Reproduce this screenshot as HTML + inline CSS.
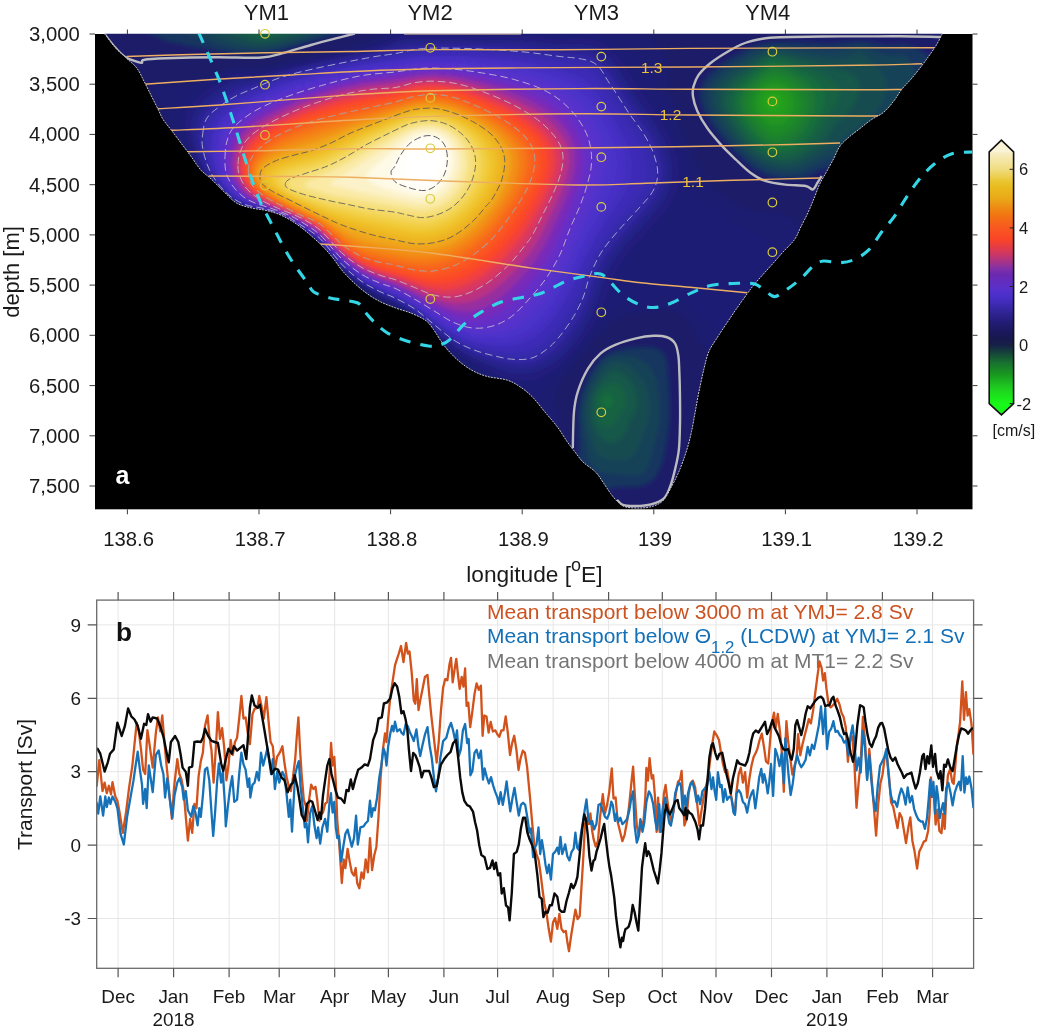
<!DOCTYPE html>
<html lang="en"><head><meta charset="utf-8"><title>Figure</title>
<style>html,body{margin:0;padding:0;background:#fff}svg{display:block}text{font-family:"Liberation Sans", sans-serif}</style>
</head><body>
<svg width="1038" height="1030" viewBox="0 0 1038 1030">
<rect width="1038" height="1030" fill="#fff"/>
<defs>
<clipPath id="basin"><path d="M104.6,33.8C106.4,36.1 111.8,43.8 115.3,47.7C118.8,51.6 121.8,53.9 125.4,57.3C129.0,60.7 133.5,63.8 136.7,67.9C139.8,72.0 142.0,77.4 144.3,81.8C146.6,86.2 148.3,89.8 150.6,94.4C152.9,99.0 156.1,105.3 158.2,109.5C160.3,113.7 160.9,116.0 163.2,119.6C165.5,123.2 168.6,126.6 172.0,131.0C175.4,135.4 180.2,142.0 183.4,146.2C186.6,150.4 188.1,152.3 191.0,156.3C193.9,160.3 197.6,166.4 201.0,170.2C204.4,174.0 207.4,175.4 211.2,179.0C215.0,182.6 219.6,187.6 223.8,191.6C228.0,195.6 231.9,200.3 236.5,203.0C241.1,205.7 246.5,206.7 251.6,208.0C256.6,209.3 261.7,209.3 266.8,210.6C271.9,211.9 277.0,213.3 282.0,215.6C287.0,217.9 292.4,221.2 297.0,224.4C301.6,227.6 305.5,230.9 309.7,234.5C313.9,238.1 318.5,242.2 322.3,246.0C326.1,249.8 329.0,253.1 332.4,257.3C335.8,261.5 338.8,266.6 342.6,271.0C346.4,275.4 351.1,280.1 355.3,284.0C359.5,287.9 363.7,291.2 367.9,294.2C372.1,297.2 375.9,299.5 380.5,301.8C385.1,304.1 390.6,306.1 395.7,308.0C400.8,309.9 405.8,310.9 410.8,313.0C415.9,315.1 422.2,317.9 426.0,320.7C429.8,323.4 431.0,326.1 433.5,329.5C436.0,332.9 438.5,337.4 441.0,341.0C443.5,344.6 445.7,347.7 448.7,351.0C451.7,354.3 455.0,357.8 458.8,361.0C462.6,364.2 466.8,367.4 471.4,370.0C476.0,372.6 480.7,374.6 486.6,376.3C492.5,378.0 501.3,378.3 506.8,380.0C512.3,381.7 515.2,383.6 519.4,386.4C523.6,389.1 527.8,392.3 532.0,396.5C536.2,400.7 540.4,406.6 544.6,411.6C548.8,416.7 553.5,421.7 557.3,426.8C561.1,431.9 564.4,437.8 567.4,442.0C570.4,446.2 572.4,448.7 575.0,452.0C577.6,455.3 579.6,458.7 583.0,462.0C586.4,465.3 592.2,468.6 595.5,472.0C598.8,475.4 600.5,478.6 603.0,482.2C605.5,485.8 608.2,490.2 610.7,493.6C613.2,497.0 615.8,500.2 618.3,502.4C620.8,504.6 622.1,506.1 625.9,507.0C629.7,507.9 636.4,508.2 641.0,508.0C645.6,507.8 649.8,507.3 653.6,506.0C657.4,504.7 660.8,503.2 663.7,500.0C666.7,496.8 669.0,491.2 671.3,487.0C673.6,482.8 675.7,478.8 677.6,474.6C679.5,470.4 681.0,466.6 682.7,462.0C684.4,457.4 686.2,451.9 687.7,446.9C689.2,441.8 690.2,437.6 691.5,431.7C692.8,425.8 694.0,418.2 695.3,411.5C696.5,404.8 697.5,398.4 699.0,391.3C700.5,384.2 702.4,375.2 704.0,368.6C705.6,362.1 706.6,357.1 708.7,352.0C710.8,346.9 713.8,343.1 716.8,338.3C719.8,333.5 723.5,328.1 726.9,323.0C730.3,317.9 733.6,312.8 737.0,308.0C740.4,303.2 744.1,298.0 747.0,294.0C749.9,290.0 751.6,287.6 754.6,284.0C757.6,280.4 761.1,276.6 764.7,272.6C768.3,268.6 773.0,263.4 776.0,260.0C779.0,256.6 779.9,255.4 783.0,252.0C786.1,248.6 791.5,243.8 794.5,239.6C797.5,235.4 798.5,231.6 800.8,227.0C803.1,222.4 806.1,216.9 808.4,211.8C810.7,206.8 812.8,201.3 814.7,196.7C816.6,192.1 817.8,188.0 819.7,184.0C821.6,180.0 823.7,176.9 826.0,172.7C828.3,168.5 831.3,163.2 833.6,158.8C835.9,154.4 837.5,149.6 840.0,146.0C842.5,142.4 845.5,140.2 848.8,137.3C852.1,134.4 856.2,131.4 860.0,128.5C863.8,125.5 867.5,122.3 871.5,119.6C875.5,116.8 880.2,115.2 884.0,112.0C887.8,108.8 891.0,104.5 894.0,100.7C897.0,96.9 898.8,93.1 901.8,89.3C904.8,85.5 908.6,82.0 912.0,78.0C915.4,74.0 919.1,69.2 922.0,65.4C924.9,61.6 927.1,58.6 929.6,55.0C932.1,51.4 934.9,47.5 937.0,44.0C939.1,40.5 941.3,35.5 942.2,33.8Z"/></clipPath>
<clipPath id="axa"><rect x="95.0" y="34.0" width="877.5" height="475.3"/></clipPath>
<filter id="bl" x="-5%" y="-5%" width="110%" height="110%"><feGaussianBlur stdDeviation="2.2"/></filter>
<linearGradient id="cbg" x1="0" y1="1" x2="0" y2="0">
<stop offset="0.000" stop-color="#18f818"/>
<stop offset="0.023" stop-color="#1be81b"/>
<stop offset="0.047" stop-color="#1ed81e"/>
<stop offset="0.070" stop-color="#1ec520"/>
<stop offset="0.093" stop-color="#1bae20"/>
<stop offset="0.116" stop-color="#189820"/>
<stop offset="0.140" stop-color="#188428"/>
<stop offset="0.163" stop-color="#187030"/>
<stop offset="0.186" stop-color="#175535"/>
<stop offset="0.209" stop-color="#163b3d"/>
<stop offset="0.233" stop-color="#162048"/>
<stop offset="0.256" stop-color="#17194d"/>
<stop offset="0.279" stop-color="#1a1758"/>
<stop offset="0.302" stop-color="#1f1a68"/>
<stop offset="0.326" stop-color="#241c78"/>
<stop offset="0.349" stop-color="#2c218b"/>
<stop offset="0.372" stop-color="#34269e"/>
<stop offset="0.395" stop-color="#3d2ab2"/>
<stop offset="0.419" stop-color="#472ec6"/>
<stop offset="0.442" stop-color="#5130cd"/>
<stop offset="0.465" stop-color="#5c30c8"/>
<stop offset="0.488" stop-color="#642cbc"/>
<stop offset="0.512" stop-color="#6c28b0"/>
<stop offset="0.535" stop-color="#8030a8"/>
<stop offset="0.558" stop-color="#a0338d"/>
<stop offset="0.581" stop-color="#bd3573"/>
<stop offset="0.605" stop-color="#d83858"/>
<stop offset="0.628" stop-color="#e93e40"/>
<stop offset="0.651" stop-color="#fa4428"/>
<stop offset="0.674" stop-color="#f94e24"/>
<stop offset="0.698" stop-color="#f85820"/>
<stop offset="0.721" stop-color="#f5651a"/>
<stop offset="0.744" stop-color="#f27213"/>
<stop offset="0.767" stop-color="#ef8212"/>
<stop offset="0.791" stop-color="#ec9515"/>
<stop offset="0.814" stop-color="#eaa818"/>
<stop offset="0.837" stop-color="#e9b21b"/>
<stop offset="0.860" stop-color="#e8bb1e"/>
<stop offset="0.884" stop-color="#eac633"/>
<stop offset="0.907" stop-color="#edd15a"/>
<stop offset="0.930" stop-color="#f0dc80"/>
<stop offset="0.953" stop-color="#f3e298"/>
<stop offset="0.977" stop-color="#f5e8b0"/>
<stop offset="1.000" stop-color="#f8eec8"/>
</linearGradient>
</defs>
<rect x="95.0" y="34.0" width="877.5" height="475.3" fill="#000"/>
<g clip-path="url(#basin)"><g filter="url(#bl)">
<rect x="80" y="20" width="910" height="500" fill="#1a1e69"/>
<path d="M394.1,30.0L397.3,28.0L626.9,28.0L642.0,33.1L648.0,36.5L652.1,40.0L658.0,46.5L662.0,52.1L666.0,59.9L668.0,68.0L667.5,82.0L667.9,88.0L669.7,94.0L676.4,108.0L679.1,122.0L680.7,128.0L684.0,136.2L692.7,154.0L700.0,170.5L706.0,180.6L710.0,185.0L716.0,189.9L734.0,202.7L744.0,208.2L752.0,211.1L758.0,212.4L766.0,213.1L780.0,213.0L784.0,213.8L788.0,215.8L792.8,220.0L799.4,228.0L806.4,238.0L812.4,248.0L818.4,260.0L822.7,272.0L825.5,284.0L826.5,296.0L825.7,308.0L823.3,318.0L819.1,328.0L814.1,336.0L809.1,342.0L802.4,348.0L796.0,352.4L788.0,356.4L780.0,359.2L770.0,361.1L762.0,361.7L752.0,361.2L740.0,359.1L728.0,355.7L712.0,349.7L702.0,344.7L700.0,343.2L697.5,340.0L693.2,328.0L689.3,322.0L682.0,315.3L678.0,312.8L672.0,310.1L666.0,308.8L660.0,308.7L642.0,312.3L630.0,313.6L624.0,314.9L618.0,317.7L614.0,320.7L596.0,337.8L579.1,358.0L563.4,378.0L557.7,388.0L555.7,394.0L554.7,400.0L554.6,404.0L555.4,408.0L559.0,416.0L559.7,418.0L559.6,420.0L558.0,422.1L556.0,422.8L554.0,422.9L550.1,422.0L544.0,418.4L518.7,400.0L484.0,378.8L460.0,362.2L446.0,350.8L418.2,324.0L406.0,314.0L393.0,306.0L374.0,295.7L358.0,284.9L340.0,268.2L317.7,242.0L313.0,238.0L299.0,228.0L289.4,222.0L280.0,217.3L269.5,214.0L246.0,209.1L238.0,206.5L226.0,200.5L216.7,194.0L207.9,186.0L200.4,178.0L194.2,170.0L187.5,160.0L177.8,142.0L164.0,110.6L156.0,96.1L154.6,92.0L154.6,88.0L156.0,85.5L158.0,84.5L162.0,84.3L174.0,86.3L182.0,85.7L192.0,83.1L219.1,72.0L232.0,68.0L238.0,67.3L254.0,68.9L260.0,68.5L268.0,67.1L314.0,55.3L360.0,44.5L378.0,38.0Z" fill="#1c1b71"/>
<path d="M501.7,30.0L514.0,29.4L526.0,29.6L540.0,30.9L560.0,34.0L584.0,31.4L592.0,31.8L600.0,33.3L612.0,37.7L626.4,46.0L634.0,51.8L644.0,61.1L654.0,68.0L656.0,70.0L656.4,72.0L654.8,82.0L655.7,88.0L657.2,92.0L659.4,96.0L662.7,100.0L670.0,107.1L671.5,110.0L672.0,120.0L673.0,126.0L676.7,136.0L686.4,158.0L688.2,166.0L691.6,188.0L692.8,192.0L694.8,196.0L700.0,201.3L716.0,210.1L738.0,225.3L746.0,229.5L763.3,236.0L768.0,238.4L772.1,242.0L776.0,248.4L778.7,256.0L780.5,266.0L780.9,276.0L779.7,286.0L777.5,294.0L773.9,302.0L768.6,310.0L762.8,316.0L754.0,322.3L744.0,326.9L732.0,329.9L720.0,330.5L716.0,329.9L712.0,328.3L708.0,324.6L700.9,316.0L696.4,312.0L678.0,299.3L674.0,297.1L670.0,295.7L666.0,295.3L660.0,296.5L646.9,304.0L642.0,305.8L636.0,306.1L624.0,304.3L620.0,305.0L616.0,307.2L612.0,311.1L604.7,322.0L594.0,333.6L580.0,351.3L566.0,367.4L553.7,380.0L544.0,394.3L540.0,396.5L538.0,396.6L534.0,395.8L510.0,386.6L498.0,381.1L476.0,368.8L458.0,356.9L446.0,347.5L420.8,324.0L408.8,314.0L395.9,306.0L374.0,294.4L358.0,283.8L340.0,267.3L318.0,241.5L311.2,236.0L296.9,226.0L286.7,220.0L278.0,216.1L264.0,212.0L248.0,208.8L240.0,206.4L230.8,202.0L221.5,196.0L214.5,190.0L206.7,182.0L197.4,170.0L191.3,160.0L187.2,152.0L182.8,142.0L179.4,132.0L176.7,122.0L175.5,112.0L176.0,105.4L177.3,102.0L178.7,100.0L183.6,96.0L207.7,82.0L223.5,74.0L232.0,70.9L238.0,69.9L248.0,71.5L254.0,71.8L266.0,70.2L312.0,58.2L364.0,46.3L378.0,41.7L396.0,33.2L402.0,31.5L480.0,31.1Z" fill="#1d1c74"/>
<path d="M398.0,36.0L404.0,35.0L462.0,35.2L480.0,35.7L520.0,35.0L538.0,36.2L560.0,39.7L576.0,38.2L586.0,38.3L594.0,39.5L600.0,41.5L606.0,44.7L612.6,50.0L616.8,54.0L623.1,62.0L646.2,98.0L658.4,114.0L664.0,124.1L674.0,146.0L678.5,158.0L679.7,170.0L679.7,176.0L678.9,182.0L676.5,192.0L671.4,204.0L664.1,214.0L630.1,252.0L622.0,263.1L616.0,273.8L612.0,282.9L605.3,302.0L598.0,320.0L579.2,346.0L570.0,356.6L560.0,366.3L548.0,374.7L538.0,379.9L534.0,380.9L522.0,381.8L516.0,381.1L508.0,379.1L498.0,375.3L484.0,368.7L470.0,361.1L460.0,354.8L446.0,344.5L421.2,322.0L410.0,313.0L395.2,304.0L374.0,293.1L358.0,282.7L340.0,266.3L318.0,240.8L312.1,236.0L297.8,226.0L287.7,220.0L279.1,216.0L264.0,211.5L246.0,207.6L240.0,205.5L232.0,201.5L223.6,196.0L214.8,188.0L204.4,176.0L196.9,164.0L191.1,152.0L186.9,140.0L184.4,128.0L184.2,118.0L186.3,110.0L188.5,106.0L191.7,102.0L202.8,92.0L211.3,86.0L224.5,78.0L236.0,73.4L240.0,73.4L250.0,75.0L256.0,74.7L262.0,73.7L312.0,60.6L360.0,50.0L382.0,43.7Z" fill="#201d7b"/>
<path d="M398.4,40.0L404.0,39.0L436.0,38.8L464.0,39.0L480.0,39.6L518.0,39.6L536.0,40.9L560.0,44.1L576.0,43.7L584.0,44.0L590.0,45.0L596.0,46.9L601.8,50.0L606.0,53.2L611.0,58.0L615.8,64.0L640.0,101.1L657.3,126.0L663.0,136.0L666.8,144.0L669.8,152.0L671.4,158.0L672.8,168.0L673.0,174.0L672.3,180.0L670.3,188.0L668.1,194.0L665.1,200.0L660.0,207.4L652.8,216.0L624.0,248.0L614.0,261.8L610.0,268.8L605.8,278.0L597.0,304.0L590.2,320.0L584.4,330.0L576.3,342.0L568.0,351.8L560.0,359.4L552.0,365.0L542.0,370.3L534.0,373.1L526.0,374.5L518.0,374.8L510.0,373.7L500.0,370.8L486.0,365.1L472.0,358.5L462.0,352.8L448.0,343.3L421.3,320.0L411.2,312.0L394.2,302.0L376.0,293.1L366.0,287.1L358.0,281.6L340.0,265.4L317.9,240.0L298.6,226.0L288.6,220.0L280.0,215.9L267.6,212.0L248.0,207.4L242.0,205.4L234.0,201.5L225.6,196.0L218.8,190.0L208.4,178.0L203.1,170.0L197.1,158.0L192.8,146.0L190.4,134.0L190.2,124.0L191.4,118.0L192.8,114.0L197.7,106.0L206.0,97.6L215.7,90.0L228.0,82.0L234.0,79.3L238.0,78.3L250.0,78.5L260.0,77.0L286.0,69.5L312.0,62.9L370.9,50.0L386.0,45.8Z" fill="#242085"/>
<path d="M401.4,44.0L406.0,43.4L434.0,42.2L514.0,43.6L532.0,44.9L558.0,48.1L580.0,49.0L586.0,49.8L592.0,51.4L597.5,54.0L602.0,57.1L606.0,60.8L610.3,66.0L635.3,104.0L652.1,128.0L656.8,136.0L661.7,146.0L664.6,154.0L666.1,160.0L667.2,168.0L667.4,174.0L665.8,184.0L663.8,190.0L661.0,196.0L657.2,202.0L652.5,208.0L621.8,242.0L609.7,258.0L605.1,266.0L600.5,276.0L592.5,300.0L586.0,315.4L580.3,326.0L572.5,338.0L566.0,346.0L557.8,354.0L550.0,359.8L540.0,365.1L532.0,367.7L524.0,369.0L516.0,369.0L508.0,367.9L496.0,364.6L482.0,359.4L470.0,354.1L458.0,347.5L448.0,340.6L418.7,316.0L410.6,310.0L396.0,301.6L374.0,290.8L358.0,280.6L340.0,264.6L318.0,239.4L299.4,226.0L289.4,220.0L280.0,215.5L264.0,210.5L248.0,206.7L242.0,204.6L234.0,200.4L227.5,196.0L220.6,190.0L212.2,180.0L206.7,172.0L202.7,164.0L198.0,152.0L195.4,140.0L194.9,130.0L196.8,120.0L200.6,112.0L206.0,105.6L216.0,97.1L228.0,89.0L238.0,84.5L258.0,80.5L290.0,70.6L322.0,62.8L382.6,50.0Z" fill="#292391"/>
<path d="M420.2,46.0L432.0,45.3L464.0,45.5L518.0,47.8L558.0,52.2L578.0,53.8L586.0,55.1L592.0,57.0L596.0,59.1L600.0,62.2L603.7,66.0L608.0,71.6L631.7,108.0L648.0,131.3L654.0,142.2L658.3,152.0L661.3,164.0L662.1,170.0L662.1,176.0L659.7,186.0L655.2,196.0L644.0,210.0L616.0,241.0L605.0,256.0L600.5,264.0L595.9,274.0L587.8,298.0L582.6,310.0L576.0,322.4L566.9,336.0L560.1,344.0L551.5,352.0L542.4,358.0L534.0,361.9L526.0,363.5L518.0,363.9L510.0,363.3L500.0,361.3L486.0,357.1L474.0,352.8L466.0,349.1L454.0,342.5L412.0,309.5L395.5,300.0L376.0,290.8L360.0,281.2L352.0,274.7L340.0,263.8L318.0,238.8L300.2,226.0L290.2,220.0L282.0,215.9L264.0,210.0L244.0,204.6L236.0,200.6L229.2,196.0L222.3,190.0L212.8,178.0L206.9,168.0L203.0,158.0L200.1,148.0L199.0,136.0L199.7,128.0L203.0,118.0L206.9,112.0L214.0,105.4L222.0,99.3L234.0,92.0L242.0,88.6L280.0,75.7L312.0,67.3L386.5,52.0L404.0,47.8Z" fill="#3026a0"/>
<path d="M410.5,50.0L428.0,48.3L442.0,48.2L472.0,48.7L514.0,51.1L574.0,58.1L584.0,60.0L590.0,61.9L594.0,64.2L598.0,67.5L604.0,74.9L628.0,111.6L643.4,134.0L652.0,151.4L655.2,162.0L656.6,174.0L655.2,182.0L651.3,192.0L640.4,206.0L612.0,238.2L602.0,252.1L597.4,260.0L592.0,271.7L588.7,280.0L583.5,296.0L580.0,303.8L572.4,318.0L562.9,332.0L558.0,338.0L548.0,347.8L542.0,352.0L534.0,356.4L528.0,358.1L518.0,359.0L510.0,358.7L502.0,357.5L490.0,354.8L476.0,350.6L468.0,347.4L456.0,341.3L446.0,334.4L420.3,314.0L411.9,308.0L396.0,299.1L376.0,289.8L360.0,280.3L340.0,263.0L318.0,238.2L298.0,224.1L282.0,215.5L265.4,210.0L246.0,204.7L240.1,202.0L233.6,198.0L226.0,192.0L220.6,186.0L213.4,176.0L208.3,166.0L203.9,152.0L202.8,144.0L202.7,134.0L205.2,124.0L208.0,117.9L213.1,112.0L222.0,104.5L234.0,96.8L242.0,92.8L252.0,88.7L278.0,78.7L290.0,75.0L326.0,66.2L364.0,58.5Z" fill="#3629ab"/>
<path d="M415.6,52.0L432.0,50.7L462.0,51.1L478.0,51.7L514.0,54.4L534.0,56.8L567.8,62.0L578.0,64.1L586.0,66.8L590.0,68.9L594.0,72.1L598.0,76.4L604.0,84.6L636.4,134.0L640.7,142.0L645.1,152.0L648.1,162.0L649.2,172.0L648.3,180.0L644.3,190.0L635.7,202.0L608.0,235.6L598.0,250.3L593.8,258.0L588.2,270.0L577.4,298.0L571.2,310.0L563.5,322.0L556.0,332.0L546.0,342.2L538.0,348.0L530.0,352.0L522.0,353.7L514.0,354.4L506.0,354.0L496.0,352.6L486.0,350.6L474.0,347.2L456.0,339.2L446.0,332.4L419.5,312.0L412.0,306.9L396.0,297.9L376.0,288.8L360.0,279.4L340.0,262.3L318.4,238.0L298.5,224.0L288.0,218.1L280.0,214.3L264.0,209.1L248.0,204.7L241.6,202.0L235.1,198.0L227.5,192.0L222.1,186.0L215.3,176.0L210.5,166.0L207.0,154.0L205.8,146.0L206.2,134.0L208.4,126.0L212.0,119.0L218.0,112.5L226.0,105.9L238.0,98.3L252.0,91.6L274.0,82.6L284.0,79.0L294.0,76.1L322.0,69.1L354.0,62.4Z" fill="#3a2ab2"/>
<path d="M419.0,54.0L434.0,53.1L462.0,53.6L482.0,54.7L512.0,57.3L530.0,59.7L554.9,64.0L570.0,67.4L580.0,70.7L586.0,73.9L591.2,78.0L596.0,83.1L602.8,92.0L613.5,108.0L627.0,130.0L632.5,140.0L636.7,150.0L640.0,162.0L640.7,172.0L639.4,180.0L635.2,190.0L627.4,202.0L604.0,233.2L595.8,246.0L586.6,264.0L573.2,296.0L567.9,306.0L561.7,316.0L552.6,328.0L544.9,336.0L536.0,342.9L528.0,346.9L520.0,349.1L512.0,350.0L504.0,350.0L494.0,349.1L484.0,347.3L474.0,344.8L464.0,340.9L456.0,337.1L446.0,330.6L412.5,306.0L396.0,296.8L376.0,287.8L360.0,278.6L348.0,268.9L340.0,261.6L319.0,238.0L299.2,224.0L288.6,218.0L280.2,214.0L248.0,204.1L242.0,201.4L236.4,198.0L229.0,192.0L223.5,186.0L217.0,176.0L213.2,168.0L209.8,156.0L208.5,146.0L209.1,136.0L211.2,128.0L215.6,120.0L221.0,114.0L230.0,106.7L240.6,100.0L256.0,92.5L280.0,82.6L290.0,79.4L314.0,73.0L362.0,62.7Z" fill="#3e2cb8"/>
<path d="M420.9,56.0L434.0,55.3L462.0,56.0L482.0,57.2L510.0,60.1L528.0,62.7L548.0,66.5L562.2,70.0L574.0,74.1L581.6,78.0L586.9,82.0L592.9,88.0L599.3,96.0L608.0,108.7L617.2,124.0L623.6,136.0L627.9,146.0L631.3,158.0L632.1,164.0L632.2,170.0L630.5,180.0L625.5,192.0L619.5,202.0L600.0,231.0L592.0,244.4L584.0,260.5L570.0,292.4L559.9,310.0L551.1,322.0L542.0,331.7L533.9,338.0L524.0,343.0L516.0,345.2L508.0,346.2L500.0,346.3L490.0,345.6L480.0,343.9L472.0,341.8L464.0,338.9L456.0,335.1L446.0,328.8L420.2,310.0L412.0,304.6L396.0,295.8L376.0,286.9L360.0,277.8L348.0,268.1L340.0,260.9L319.6,238.0L299.9,224.0L281.1,214.0L248.0,203.4L242.0,200.7L237.8,198.0L230.4,192.0L224.9,186.0L218.6,176.0L215.0,168.0L212.0,156.0L211.1,146.0L212.0,136.0L214.6,128.0L219.4,120.0L225.2,114.0L234.0,107.2L244.0,101.0L260.0,93.2L280.0,84.8L292.0,81.0L318.0,73.9L362.0,64.5Z" fill="#422ebe"/>
<path d="M421.6,58.0L436.0,57.5L460.0,58.1L482.0,59.7L508.0,62.6L524.0,65.1L544.0,69.2L558.0,73.1L568.0,76.8L576.0,80.9L582.0,85.0L588.0,90.5L594.5,98.0L601.7,108.0L609.1,120.0L615.3,132.0L620.3,144.0L623.8,158.0L624.2,170.0L623.4,176.0L621.8,182.0L616.7,194.0L590.0,239.7L583.8,252.0L567.4,288.0L557.0,306.0L548.0,318.1L538.6,328.0L530.0,334.6L520.0,339.5L512.0,341.7L504.0,342.8L496.0,343.0L486.0,342.4L478.0,341.1L470.0,339.0L462.0,336.1L454.0,332.2L446.0,327.2L421.9,310.0L412.0,303.6L396.0,294.8L374.0,285.0L360.0,277.1L341.8,262.0L320.0,237.9L312.4,232.0L300.6,224.0L282.0,214.0L248.0,202.8L239.0,198.0L231.8,192.0L226.2,186.0L221.1,178.0L217.4,170.0L214.8,160.0L213.5,148.0L214.4,138.0L216.8,130.0L221.4,122.0L226.9,116.0L236.0,108.8L246.8,102.0L262.0,94.7L282.0,86.3L320.0,75.3L362.0,66.2Z" fill="#462fc5"/>
<path d="M421.2,60.0L434.0,59.5L458.0,60.2L480.0,61.9L504.0,64.8L520.0,67.3L538.0,71.3L550.0,74.6L562.0,79.0L570.0,83.0L577.6,88.0L584.0,93.7L590.0,100.3L597.2,110.0L603.4,120.0L609.5,132.0L613.4,142.0L616.4,154.0L617.3,164.0L616.5,174.0L613.9,184.0L606.9,200.0L585.4,240.0L566.0,281.9L560.6,292.0L554.3,302.0L548.0,310.6L541.8,318.0L535.8,324.0L528.3,330.0L522.0,333.8L516.0,336.3L508.0,338.6L500.0,339.7L492.0,340.1L482.0,339.4L474.0,338.0L466.0,335.7L458.0,332.4L452.0,329.3L412.0,302.5L396.0,293.8L376.0,285.2L360.0,276.3L342.0,261.5L320.0,237.4L301.3,224.0L282.0,213.7L250.0,203.0L240.2,198.0L233.0,192.0L227.5,186.0L222.5,178.0L219.0,170.0L216.6,160.0L215.8,148.0L217.0,138.0L219.7,130.0L224.0,123.0L230.0,116.6L240.0,108.8L250.0,102.7L266.0,95.1L282.0,88.5L322.0,76.7L362.0,67.9Z" fill="#4a30c8"/>
<path d="M419.7,62.0L430.0,61.4L452.0,61.8L490.0,65.4L510.0,68.3L524.0,71.1L542.0,75.8L554.0,80.0L564.0,84.7L572.0,89.7L579.5,96.0L585.3,102.0L591.5,110.0L598.0,120.0L603.1,130.0L607.0,140.0L610.0,152.0L610.9,162.0L610.2,172.0L607.4,184.0L601.0,200.0L584.0,234.0L565.6,274.0L559.3,286.0L553.1,296.0L545.8,306.0L538.0,315.2L531.0,322.0L524.0,327.4L518.0,330.9L510.4,334.0L504.0,335.7L496.0,337.0L488.0,337.3L480.0,336.8L474.0,335.9L466.0,333.8L458.0,330.6L452.0,327.6L412.0,301.5L396.0,292.8L376.0,284.4L360.0,275.6L342.0,260.9L320.0,236.9L301.9,224.0L282.0,213.4L250.0,202.4L241.4,198.0L234.3,192.0L228.7,186.0L224.8,180.0L221.2,172.0L218.7,162.0L217.9,152.0L218.6,142.0L221.5,132.0L226.0,124.4L231.9,118.0L240.0,111.6L250.0,105.1L266.0,97.4L282.0,90.6L322.0,78.5L362.0,69.5Z" fill="#4e30c9"/>
<path d="M417.6,64.0L430.0,63.2L452.0,63.7L484.0,66.9L506.0,70.2L518.0,72.6L536.0,77.3L548.0,81.4L557.9,86.0L566.0,90.8L572.8,96.0L580.0,102.9L586.0,110.0L592.7,120.0L597.1,128.0L601.1,138.0L604.2,150.0L605.2,160.0L604.7,170.0L602.7,180.0L599.5,190.0L594.7,202.0L580.0,233.4L566.0,265.1L559.3,278.0L553.4,288.0L544.9,300.0L536.6,310.0L528.7,318.0L521.3,324.0L514.0,328.3L506.0,331.5L496.0,333.9L484.0,334.7L474.0,333.8L462.0,330.5L448.0,323.7L417.8,304.0L400.2,294.0L394.0,290.9L378.0,284.5L364.0,277.4L356.0,271.9L342.0,260.3L319.6,236.0L302.6,224.0L292.1,218.0L282.0,213.1L250.6,202.0L244.0,198.8L240.0,196.1L233.5,190.0L228.5,184.0L225.1,178.0L222.6,172.0L220.4,162.0L219.8,152.0L221.3,140.0L224.0,132.2L227.7,126.0L233.1,120.0L243.1,112.0L252.0,106.3L270.0,97.7L284.0,91.9L324.0,79.8L362.0,71.1Z" fill="#5230ca"/>
<path d="M415.1,66.0L428.0,65.0L450.0,65.5L482.0,68.8L514.0,74.4L532.0,79.4L544.0,83.4L553.6,88.0L562.0,93.0L568.7,98.0L576.0,104.9L582.2,112.0L588.9,122.0L593.3,130.0L596.3,138.0L599.0,148.0L600.0,158.0L599.5,170.0L597.4,180.0L593.7,192.0L589.1,204.0L564.0,261.3L556.0,276.2L550.0,285.9L541.0,298.0L532.3,308.0L524.3,316.0L516.8,322.0L509.8,326.0L500.0,329.8L490.0,331.8L478.0,332.1L470.0,330.9L460.0,327.8L448.0,322.1L416.3,302.0L400.0,292.9L394.0,290.0L378.0,283.7L364.0,276.7L356.0,271.2L342.0,259.6L320.0,235.9L303.2,224.0L292.7,218.0L282.0,212.8L252.1,202.0L246.0,199.2L241.0,196.0L234.7,190.0L230.0,184.3L227.3,180.0L224.6,174.0L222.3,164.0L221.6,154.0L223.0,142.0L225.6,134.0L229.0,128.0L234.2,122.0L243.9,114.0L252.0,108.5L268.0,100.7L284.0,93.9L324.0,81.5L362.0,72.7Z" fill="#5630cb"/>
<path d="M412.2,68.0L428.0,66.6L448.0,67.1L458.0,67.8L478.0,70.3L512.0,76.6L540.0,85.2L546.2,88.0L558.0,94.8L564.9,100.0L571.4,106.0L577.0,112.0L581.6,118.0L587.7,128.0L591.2,136.0L594.1,146.0L595.2,154.0L595.3,166.0L593.6,176.0L590.4,188.0L585.4,202.0L562.0,257.5L549.3,280.0L538.7,294.0L530.0,304.1L520.0,314.0L512.6,320.0L505.1,324.0L496.0,327.6L486.0,329.4L476.0,329.6L468.0,328.4L458.0,325.2L448.0,320.4L416.0,300.8L400.0,292.0L394.0,289.1L378.0,282.9L364.0,276.0L356.0,270.5L342.0,259.0L320.0,235.4L303.8,224.0L293.3,218.0L282.0,212.4L253.5,202.0L248.0,199.5L242.2,196.0L235.9,190.0L231.0,184.0L228.6,180.0L225.9,174.0L224.1,166.0L223.3,156.0L224.7,144.0L227.1,136.0L230.2,130.0L235.2,124.0L244.6,116.0L253.3,110.0L272.0,101.0L284.0,95.9L324.0,83.2L362.0,74.3Z" fill="#5a30cc"/>
<path d="M409.1,70.0L422.0,68.5L430.0,68.2L450.0,68.8L460.0,69.8L482.0,72.9L506.0,77.7L518.0,81.0L536.0,87.0L544.0,90.5L554.0,96.4L560.0,100.7L566.1,106.0L577.0,118.0L584.5,130.0L587.2,136.0L590.5,148.0L591.2,154.0L591.2,166.0L589.9,174.0L586.9,186.0L581.4,202.0L559.9,254.0L546.0,278.0L528.0,300.0L518.0,310.1L511.3,316.0L504.6,320.0L494.0,324.8L486.0,326.5L476.0,327.2L468.0,326.1L458.0,323.2L448.0,318.7L416.0,299.7L398.0,290.0L378.0,282.1L364.0,275.2L356.0,269.8L342.0,258.4L320.0,235.0L304.4,224.0L293.9,218.0L282.0,212.1L258.0,203.4L250.3,200.0L243.4,196.0L238.9,192.0L232.2,184.0L229.8,180.0L227.2,174.0L225.5,166.0L225.0,156.0L226.7,144.0L229.3,136.0L232.8,130.0L238.0,124.1L248.0,115.9L254.0,111.8L264.0,106.8L284.0,97.8L324.0,84.8L362.0,75.8Z" fill="#652fc6"/>
<path d="M423.7,72.0L434.0,71.8L452.0,72.8L478.0,77.0L508.0,84.5L520.0,88.6L534.0,94.3L542.0,98.5L552.0,105.0L560.0,111.7L566.0,117.8L571.1,124.0L576.1,132.0L578.9,138.0L581.4,146.0L582.7,154.0L582.8,164.0L581.8,172.0L578.9,184.0L571.0,206.0L554.8,244.0L549.8,254.0L542.0,266.7L535.3,276.0L524.0,289.3L514.0,299.6L506.0,306.8L500.0,311.0L492.0,315.5L484.0,318.3L476.0,319.7L470.0,319.7L462.0,318.6L454.0,316.3L436.0,307.8L398.7,288.0L378.0,280.1L364.0,273.5L356.0,268.2L344.0,258.7L322.0,235.6L312.1,228.0L302.8,222.0L291.7,216.0L282.0,211.4L257.6,202.0L249.8,198.0L244.0,194.2L239.8,190.0L234.0,182.0L232.0,178.0L229.9,172.0L228.7,162.0L229.1,154.0L231.3,144.0L234.8,136.0L239.1,130.0L244.0,125.2L254.0,117.5L262.0,112.8L280.0,104.3L292.0,99.5L320.0,90.1L340.0,84.6L364.0,79.3Z" fill="#782cb9"/>
<path d="M417.4,76.0L428.0,75.2L438.0,75.3L452.0,76.4L462.0,77.9L478.0,81.5L490.0,84.8L508.0,90.7L521.0,96.0L532.0,101.3L540.2,106.0L548.0,111.4L556.0,118.2L562.0,124.5L567.5,132.0L570.9,138.0L573.9,146.0L575.4,154.0L575.6,162.0L574.4,172.0L571.9,182.0L568.0,193.4L562.8,206.0L549.3,236.0L543.1,248.0L536.0,259.2L528.0,269.9L520.0,279.2L510.0,289.4L502.0,296.5L494.0,302.5L486.0,307.0L477.9,310.0L472.0,311.2L464.0,311.5L456.0,310.5L448.0,308.3L432.0,302.0L398.0,285.4L378.0,278.1L364.0,271.6L356.0,266.4L344.0,257.1L322.0,234.4L314.0,228.1L304.0,221.8L293.3,216.0L282.0,210.6L260.0,201.8L246.8,194.0L242.6,190.0L238.3,184.0L235.1,178.0L233.0,172.0L232.0,164.0L232.5,156.0L234.4,148.0L238.0,139.5L242.0,133.7L248.0,127.8L256.0,121.7L266.0,115.7L284.0,107.3L298.0,101.5L322.0,93.4L338.0,88.8L364.0,83.1L394.0,79.8Z" fill="#962fa0"/>
<path d="M412.8,80.0L422.0,78.8L434.0,78.3L448.0,79.4L458.0,80.8L484.0,87.7L512.0,98.4L523.2,104.0L536.0,111.3L542.6,116.0L550.0,122.1L556.0,128.2L561.9,136.0L565.3,142.0L567.5,148.0L568.7,156.0L568.6,164.0L567.4,172.0L564.7,182.0L560.2,194.0L554.9,206.0L542.5,232.0L536.0,243.7L528.9,254.0L520.0,265.2L512.0,273.8L502.0,283.3L494.0,289.7L486.0,295.1L478.0,299.2L470.0,302.0L462.0,303.3L454.0,303.5L446.0,302.1L436.0,299.5L428.0,296.4L398.0,283.0L378.0,276.0L364.0,269.7L357.9,266.0L344.0,255.5L322.0,233.1L314.0,227.0L302.6,220.0L292.0,214.5L259.0,200.0L249.8,194.0L245.3,190.0L242.3,186.0L238.1,178.0L236.1,172.0L235.2,166.0L235.7,158.0L238.0,149.2L242.0,140.9L246.0,135.6L252.0,130.1L262.0,123.0L270.0,118.4L300.0,104.8L338.0,92.5L364.0,86.9L394.0,83.6Z" fill="#ba3281"/>
<path d="M423.5,82.0L432.0,81.6L440.0,81.9L452.0,83.2L462.0,85.3L484.0,92.2L514.0,105.3L534.9,118.0L548.8,130.0L553.7,136.0L558.9,144.0L560.6,148.0L561.8,154.0L562.1,160.0L561.4,168.0L559.6,176.0L556.1,186.0L550.0,200.0L536.0,228.0L531.5,236.0L526.0,243.9L511.2,262.0L502.0,270.8L492.0,279.3L482.0,285.9L472.0,291.3L466.0,293.5L456.0,296.2L452.0,296.6L446.0,296.3L438.0,295.3L432.0,293.8L398.0,280.4L376.0,273.0L361.0,266.0L344.0,253.7L324.0,233.6L316.0,227.1L296.0,215.7L261.6,200.0L252.7,194.0L248.0,190.0L244.9,186.0L240.8,178.0L238.5,170.0L238.1,164.0L239.5,156.0L242.5,148.0L246.0,141.9L250.0,137.3L256.0,132.2L266.0,125.3L274.0,120.9L302.2,108.0L340.0,95.9L366.0,90.5L392.0,87.7L414.0,83.1Z" fill="#da375e"/>
<path d="M417.1,86.0L428.0,85.0L436.0,84.9L456.0,87.5L465.1,90.0L480.0,95.1L506.0,106.6L514.0,110.9L528.0,119.8L534.0,124.3L540.2,130.0L545.7,136.0L549.8,142.0L552.9,148.0L554.5,154.0L555.0,160.0L554.3,168.0L552.5,176.0L549.0,186.0L543.6,198.0L533.2,218.0L526.2,230.0L520.0,238.9L505.6,256.0L497.3,264.0L487.7,272.0L478.8,278.0L470.0,283.0L460.0,287.1L452.0,289.3L446.0,289.9L438.0,289.8L428.0,287.8L396.0,276.8L380.0,272.0L369.7,268.0L361.3,264.0L344.0,251.8L323.8,232.0L316.3,226.0L300.0,216.8L268.3,202.0L257.8,196.0L250.6,190.0L247.2,186.0L243.3,178.0L241.5,172.0L240.9,166.0L242.2,158.0L245.4,150.0L249.2,144.0L252.7,140.0L258.0,135.5L268.0,128.6L276.0,124.1L304.0,111.5L340.0,100.1L368.0,94.4L394.0,91.1Z" fill="#f23f3d"/>
<path d="M413.6,90.0L422.0,88.8L432.0,88.1L440.0,88.5L452.0,90.2L462.0,92.8L476.0,97.7L498.0,107.5L506.8,112.0L518.0,118.9L526.0,124.5L532.4,130.0L538.0,136.0L542.3,142.0L545.3,148.0L547.2,154.0L547.8,162.0L546.9,170.0L544.9,178.0L541.1,188.0L535.3,200.0L528.0,213.2L520.0,225.9L512.7,236.0L498.7,252.0L490.0,260.1L482.0,266.4L473.6,272.0L464.0,277.2L456.0,280.5L448.0,282.6L436.0,283.5L422.0,281.3L378.0,268.4L362.0,262.0L352.6,256.0L344.0,249.7L324.0,230.6L318.0,225.7L306.0,218.8L270.9,202.0L260.0,195.9L253.1,190.0L249.6,186.0L246.3,180.0L244.0,172.0L243.7,166.0L244.8,160.0L248.0,152.4L252.0,146.3L256.0,142.0L262.0,137.2L272.0,130.5L280.0,126.3L306.0,114.9L338.0,105.2L364.0,99.5L394.0,94.8Z" fill="#fc4927"/>
<path d="M423.4,92.0L432.0,91.5L438.0,91.7L448.0,93.0L456.0,94.8L476.5,102.0L500.0,113.1L517.1,124.0L528.0,133.1L532.3,138.0L536.4,144.0L538.3,148.0L540.1,154.0L540.8,160.0L540.6,166.0L539.5,172.0L537.3,180.0L534.1,188.0L529.1,198.0L518.0,216.2L505.0,234.0L494.0,246.3L478.1,260.0L464.0,268.7L454.0,273.2L446.0,275.6L436.0,277.1L428.0,276.9L412.0,274.2L380.0,265.7L364.0,260.2L356.0,255.7L344.0,247.4L324.0,228.8L318.0,224.2L306.0,217.7L269.6,200.0L262.6,196.0L253.6,188.0L249.4,182.0L246.7,174.0L246.3,168.0L247.3,162.0L250.0,155.7L254.0,149.5L259.3,144.0L270.0,136.2L278.0,131.5L306.0,119.3L330.4,112.0L352.0,106.6L392.0,98.9L414.0,93.3Z" fill="#fb5621"/>
<path d="M417.9,96.0L432.0,94.8L448.0,96.6L462.0,100.5L482.0,108.7L500.0,118.0L516.8,130.0L521.3,134.0L526.5,140.0L530.3,146.0L532.7,152.0L533.6,156.0L533.9,162.0L533.3,168.0L531.5,176.0L526.8,188.0L518.1,204.0L505.6,222.0L492.0,238.3L484.0,245.8L474.1,254.0L460.0,262.4L452.0,266.0L442.0,269.0L432.0,270.7L424.0,270.5L412.0,269.2L380.0,261.9L364.0,256.9L358.0,253.9L344.0,244.7L324.0,226.9L318.0,222.6L276.3,202.0L264.0,195.1L256.0,188.0L251.7,182.0L249.5,176.0L248.8,170.0L249.9,164.0L252.5,158.0L256.0,152.8L260.5,148.0L272.0,139.8L280.0,135.1L306.0,124.2L318.0,120.2L349.8,112.0L392.0,102.6L412.0,97.1Z" fill="#f8661c"/>
<path d="M414.1,100.0L430.0,98.3L444.0,99.5L458.0,103.0L476.0,110.2L496.0,120.8L511.0,132.0L516.0,136.9L520.1,142.0L523.6,148.0L525.1,152.0L526.0,156.0L526.5,162.0L526.0,168.0L524.8,174.0L522.9,180.0L519.6,188.0L511.8,202.0L500.0,218.6L486.0,234.8L472.0,246.8L458.0,255.5L448.0,259.9L438.0,262.8L430.0,264.0L420.0,264.2L412.0,263.5L382.0,257.8L364.0,252.9L354.0,247.9L344.0,241.6L325.6,226.0L320.0,221.9L279.4,202.0L265.3,194.0L258.4,188.0L254.1,182.0L251.9,176.0L251.7,170.0L253.3,164.0L255.4,160.0L260.0,154.1L264.0,150.5L280.0,140.6L290.4,136.0L318.0,126.1Z" fill="#f67a16"/>
<path d="M425.0,102.0L432.0,101.7L438.0,102.2L454.0,105.6L470.5,112.0L486.0,120.0L498.2,128.0L508.9,138.0L514.7,146.0L516.6,150.0L518.3,156.0L518.8,166.0L516.3,178.0L510.3,192.0L502.0,205.5L490.0,220.9L479.5,232.0L466.0,242.8L454.0,249.9L446.0,253.2L436.4,256.0L428.0,257.3L420.0,257.7L410.0,256.9L382.0,252.1L364.6,248.0L355.4,244.0L344.7,238.0L326.5,224.0L320.3,220.0L287.0,204.0L268.8,194.0L261.0,188.0L256.6,182.0L255.0,178.0L254.5,172.0L255.3,168.0L258.0,162.7L262.0,158.0L266.0,154.7L280.0,146.8L292.0,141.9L356.0,120.6L410.0,104.4L416.0,103.0Z" fill="#f28f16"/>
<path d="M418.0,106.0L432.0,105.1L442.0,106.4L456.0,110.1L473.9,118.0L487.4,126.0L497.5,134.0L505.8,144.0L508.1,148.0L510.4,154.0L511.2,158.0L511.4,164.0L509.5,176.0L505.0,188.0L498.0,200.5L490.0,211.1L476.0,226.5L464.0,236.2L452.0,243.4L444.0,246.6L436.0,249.0L428.0,250.2L418.0,250.7L406.0,249.4L376.0,244.0L366.0,241.6L356.1,238.0L348.0,234.3L322.0,218.4L295.5,206.0L279.9,198.0L266.0,189.5L262.1,186.0L259.4,182.0L257.8,178.0L257.5,174.0L258.3,170.0L260.0,166.6L262.0,164.0L266.0,160.5L276.0,154.9L288.0,150.2L320.0,140.1L349.8,128.0L376.0,118.7L406.0,108.8Z" fill="#f0a51a"/>
<path d="M413.8,110.0L428.0,108.5L438.0,109.1L452.0,112.5L468.0,119.4L482.2,128.0L492.0,136.0L499.5,146.0L503.0,154.0L504.1,162.0L502.3,176.0L498.7,186.0L492.2,198.0L486.2,206.0L472.0,221.8L460.0,231.1L450.0,237.0L434.0,242.3L428.0,243.2L416.0,243.6L400.0,241.0L366.0,233.5L348.0,227.6L340.0,224.4L290.0,200.7L277.6,194.0L268.3,188.0L264.0,184.0L262.0,180.5L261.0,176.0L261.8,172.0L262.8,170.0L266.5,166.0L276.0,160.8L284.0,157.7L317.3,148.0L332.0,142.0L348.5,134.0L362.0,128.3L394.3,116.0Z" fill="#eeb621"/>
<path d="M423.1,112.0L434.0,111.9L446.0,114.3L456.0,117.8L468.1,124.0L477.1,130.0L486.2,138.0L492.0,146.0L494.8,152.0L495.9,156.0L496.5,160.0L496.6,166.0L494.9,176.0L491.3,186.0L485.9,196.0L478.0,206.3L468.0,217.0L456.0,226.2L446.0,231.5L438.0,234.3L430.0,236.1L422.0,236.7L414.0,236.5L374.0,228.7L348.0,221.8L338.0,218.6L326.0,214.0L290.0,197.9L282.0,193.6L273.5,188.0L269.0,184.0L266.4,180.0L266.0,176.0L267.9,172.0L272.0,168.5L278.0,165.3L286.0,162.4L310.0,155.9L322.0,151.8L334.0,146.6L360.0,133.7L398.0,118.1L412.0,113.7Z" fill="#f0c22b"/>
<path d="M416.5,116.0L428.0,114.9L436.0,115.4L448.0,118.3L458.0,122.7L469.7,130.0L478.6,138.0L484.5,146.0L488.0,154.0L489.3,162.0L488.5,172.0L485.6,182.0L480.7,192.0L473.7,202.0L464.5,212.0L456.0,218.7L446.0,224.5L438.0,227.5L430.0,229.4L424.0,230.0L416.0,229.9L406.0,228.5L374.0,222.3L346.3,216.0L332.1,212.0L320.6,208.0L292.0,196.1L281.5,190.0L276.8,186.0L273.7,182.0L272.8,178.0L274.0,174.9L276.8,172.0L282.0,169.0L290.0,166.2L314.0,159.7L324.0,156.1L336.0,150.8L362.0,137.4L382.7,128.0L402.1,120.0Z" fill="#f1cd3f"/>
<path d="M413.2,120.0L424.0,118.3L434.0,118.4L444.0,120.5L452.8,124.0L462.5,130.0L471.6,138.0L477.4,146.0L480.7,154.0L482.1,162.0L481.5,170.0L478.9,180.0L474.2,190.0L468.9,198.0L462.0,206.0L454.0,212.6L444.9,218.0L432.0,222.4L426.0,223.4L420.0,223.5L410.0,222.3L363.2,214.0L330.0,206.4L304.2,198.0L290.0,191.9L284.4,188.0L280.9,184.0L279.9,180.0L280.5,178.0L282.0,175.9L286.0,173.3L292.0,171.1L314.0,164.9L326.0,160.7L338.0,155.1L364.0,141.1L382.9,132.0L402.0,123.6Z" fill="#f4d75d"/>
<path d="M420.5,122.0L428.0,121.4L436.0,122.0L444.0,124.1L452.4,128.0L460.6,134.0L466.5,140.0L471.5,148.0L474.2,156.0L475.0,162.0L474.2,170.0L471.5,180.0L467.7,188.0L462.4,196.0L457.2,202.0L450.0,207.6L442.0,212.3L430.0,216.1L422.0,217.1L368.0,208.6L330.0,200.9L306.0,194.4L294.0,189.6L291.4,188.0L288.0,184.0L287.9,182.0L289.3,180.0L292.7,178.0L328.0,165.7L346.0,156.8L368.2,144.0L396.2,130.0L408.0,125.0Z" fill="#f6e07f"/>
<path d="M418.0,126.0L426.0,124.9L434.0,125.2L442.0,127.2L448.0,130.0L453.7,134.0L459.7,140.0L463.7,146.0L466.2,152.0L467.7,160.0L467.6,166.0L466.1,174.0L463.2,182.0L458.6,190.0L454.0,195.8L449.5,200.0L442.0,204.9L436.0,207.5L428.0,209.6L422.0,210.2L414.0,209.6L330.0,194.7L308.0,188.0L304.6,186.0L304.5,184.0L306.8,182.0L344.0,164.6L372.2,148.0L401.4,132.0L410.0,128.2Z" fill="#faeaa5"/>
<path d="M417.6,130.0L424.0,128.8L430.0,128.5L436.0,129.3L442.0,131.4L446.6,134.0L452.0,138.8L455.9,144.0L458.7,150.0L460.2,156.0L460.7,162.0L460.1,168.0L458.0,176.0L454.3,184.0L450.1,190.0L446.0,194.2L440.7,198.0L434.0,201.2L428.0,202.8L422.0,203.4L414.0,203.0L356.0,191.3L340.0,186.9L333.1,186.0L329.8,184.0L330.5,182.0L340.0,177.0L400.1,138.0L410.0,132.6Z" fill="#fcf2c9"/>
<path d="M418.7,134.0L428.0,132.4L434.0,132.9L438.0,134.1L442.0,136.2L446.5,140.0L449.4,144.0L451.3,148.0L453.1,154.0L453.6,158.0L452.9,168.0L451.2,174.0L448.5,180.0L446.0,184.0L442.0,188.6L436.0,193.0L430.0,195.3L422.0,196.6L414.0,196.1L402.0,193.6L384.1,188.0L374.2,184.0L368.3,180.0L367.1,178.0L367.0,176.0L367.8,174.0L370.6,170.0L374.6,166.0L388.0,155.5L406.3,140.0L412.0,136.6Z" fill="#fefae8"/>
<path d="M421.7,138.0L428.0,137.0L432.0,137.3L436.0,138.4L440.0,140.9L442.8,144.0L445.0,148.0L446.8,154.0L447.3,160.0L446.7,166.0L444.7,172.0L441.6,178.0L438.0,182.9L434.2,186.0L430.0,188.0L426.0,189.1L420.0,189.5L410.0,187.8L400.6,184.0L394.6,180.0L392.8,178.0L391.2,174.0L391.3,172.0L392.9,168.0L398.5,158.0L404.3,150.0L407.9,146.0L412.0,142.4L416.3,140.0Z" fill="#fffef9"/>
<path d="M422.2,144.0L426.0,143.2L430.0,143.4L432.3,144.0L435.8,146.0L438.0,148.4L440.0,151.8L441.6,156.0L442.1,160.0L441.5,164.0L440.0,168.0L437.7,172.0L434.0,176.7L428.0,180.6L424.0,181.6L420.0,181.8L414.0,180.5L408.0,177.2L406.0,175.1L404.3,172.0L403.7,168.0L404.4,164.0L405.8,160.0L410.0,152.9L416.0,147.0Z" fill="#ffffff"/>
<path d="M421.8,152.0L426.0,151.4L430.0,152.5L433.7,156.0L435.1,160.0L434.0,164.8L430.3,170.0L426.0,172.7L422.0,173.5L418.0,172.6L414.4,170.0L413.2,168.0L412.5,164.0L413.5,160.0L416.0,156.0L418.1,154.0Z" fill="#ffffff"/>
<path d="M90.0,28.0L96.7,28.0L93.2,38.0L92.9,42.0L93.7,48.0L95.9,56.0L106.1,86.0L110.1,96.0L114.2,104.0L121.9,116.0L131.7,128.0L166.8,164.0L181.7,178.0L193.6,188.0L204.5,196.0L216.0,203.0L226.7,208.0L238.0,211.8L246.0,213.5L264.4,216.0L279.4,220.0L287.5,224.0L294.0,228.0L310.5,240.0L318.9,248.0L340.0,274.2L354.0,288.3L368.0,299.5L395.7,318.0L403.1,324.0L409.4,330.0L418.6,340.0L442.0,367.5L476.9,406.0L508.0,442.1L522.0,455.5L530.0,461.5L536.0,465.2L548.0,470.5L554.0,472.1L560.0,472.8L564.0,472.6L568.0,471.6L572.0,469.2L574.7,466.0L578.0,458.2L579.4,450.0L578.0,416.0L578.6,408.0L580.8,396.0L584.3,386.0L591.1,372.0L595.2,366.0L602.0,358.1L606.0,355.1L614.0,351.3L620.0,349.4L628.0,347.9L638.0,346.9L648.0,346.9L655.4,348.0L660.0,350.0L662.3,352.0L664.9,356.0L666.2,360.0L667.2,366.0L669.2,392.0L669.5,418.0L667.3,438.0L663.4,458.0L659.5,470.0L654.7,478.0L650.0,482.4L646.0,484.6L642.0,486.0L634.0,487.1L616.0,487.1L610.0,488.3L604.0,491.3L601.1,494.0L600.0,495.8L598.7,500.0L599.1,506.0L601.6,514.0L90.0,514.0ZM139.6,28.0L353.0,28.0L350.0,30.0L344.2,32.0L282.0,49.9L266.0,53.1L256.0,53.8L234.0,52.9L220.0,51.6L204.0,48.2L192.0,46.5L180.0,43.6L170.0,42.1L164.0,40.1L154.0,34.8L142.5,30.0ZM852.0,42.0L862.0,41.4L884.0,45.0L890.0,45.2L904.0,44.7L910.0,45.6L916.1,48.0L926.3,54.0L933.9,60.0L939.9,66.0L945.7,74.0L950.2,84.0L952.1,92.0L952.2,102.0L950.0,112.0L946.4,120.0L940.9,128.0L933.0,136.0L925.0,142.0L916.0,147.2L904.9,152.0L892.6,156.0L870.0,161.1L824.0,168.5L818.0,170.8L808.0,176.8L804.0,178.0L794.0,179.0L784.0,178.6L774.0,177.0L766.0,174.7L756.0,169.5L748.0,163.7L736.0,152.7L724.4,140.0L712.0,124.2L704.9,112.0L701.3,102.0L700.4,94.0L701.9,86.0L704.9,80.0L710.0,73.8L720.0,65.4L732.0,57.6L746.0,49.9L752.0,47.3L760.0,44.7L768.0,43.0L774.0,42.4L786.0,42.3L828.0,44.2L840.0,43.6Z" fill="#18365e"/>
<path d="M173.6,28.0L338.3,28.0L334.5,30.0L298.0,42.0L274.0,48.2L266.0,49.6L258.0,50.1L242.0,48.9L224.0,45.8L216.0,43.2L206.0,38.7L192.0,35.3L181.3,32.0L176.4,30.0ZM765.3,48.0L774.0,46.7L782.0,46.6L818.0,50.8L832.0,51.4L842.0,50.5L856.0,46.6L860.0,46.1L864.0,46.8L878.0,52.7L886.0,55.1L894.0,55.7L904.0,54.8L906.2,56.0L910.3,62.0L913.9,70.0L915.7,76.0L916.8,84.0L916.8,90.0L915.8,96.0L914.0,102.0L911.3,108.0L907.4,114.0L902.3,120.0L898.1,124.0L886.0,132.8L870.0,141.2L824.0,160.6L806.0,169.7L800.0,171.9L792.0,173.2L784.0,173.2L776.0,172.0L768.0,169.8L758.0,164.9L750.0,159.1L740.0,150.0L731.0,140.0L720.2,126.0L713.7,116.0L709.3,106.0L707.9,100.0L707.5,96.0L708.2,90.0L710.8,84.0L715.5,78.0L722.0,72.1L732.0,64.9L750.1,54.0L758.0,50.3ZM90.0,80.0L90.0,78.4L92.0,80.8L101.0,98.0L108.4,110.0L114.3,118.0L122.9,128.0L136.7,142.0L160.7,164.0L179.1,180.0L192.0,190.0L210.6,202.0L220.0,206.7L228.3,210.0L242.0,213.8L270.0,217.9L280.0,221.0L292.8,228.0L312.0,242.1L319.6,250.0L338.0,273.4L352.0,288.0L368.0,301.2L394.9,320.0L402.0,326.0L410.0,334.0L468.4,404.0L500.0,443.6L512.0,457.0L522.0,466.4L532.0,474.3L566.0,496.0L574.1,504.0L578.6,510.0L580.6,514.0L90.0,514.0ZM617.7,356.0L624.0,355.6L632.0,356.5L638.0,358.4L644.4,362.0L650.0,367.3L653.1,372.0L656.0,379.2L658.0,388.0L659.3,400.0L659.9,414.0L659.6,420.0L658.2,428.0L651.1,456.0L648.0,466.0L646.0,470.0L644.0,472.4L641.7,474.0L638.0,475.2L632.0,475.4L608.0,473.4L601.7,472.0L596.0,469.1L592.0,464.9L588.8,458.0L583.7,432.0L582.3,420.0L582.4,410.0L584.3,398.0L588.0,387.0L596.0,372.1L603.9,362.0L610.0,358.0Z" fill="#184258"/>
<path d="M203.8,28.0L322.5,28.0L319.4,30.0L314.9,32.0L299.0,38.0L274.0,44.4L266.0,45.7L260.0,46.0L252.0,45.4L244.0,44.0L228.0,39.6L216.0,34.7L206.5,30.0ZM765.6,52.0L774.0,50.6L784.0,51.0L818.0,57.4L834.0,59.2L840.0,59.1L846.0,58.1L850.0,57.0L858.0,53.5L860.0,53.3L862.0,54.0L877.8,68.0L881.5,72.0L884.1,76.0L885.6,80.0L886.4,86.0L885.7,92.0L883.9,98.0L880.9,104.0L876.7,110.0L866.8,120.0L829.9,148.0L810.0,160.5L800.0,165.4L790.0,167.8L780.0,167.5L774.0,166.3L768.0,164.4L760.0,160.5L752.0,154.9L744.0,147.6L735.5,138.0L723.9,122.0L719.3,114.0L715.6,104.0L714.7,96.0L715.6,90.0L717.7,86.0L722.0,80.7L726.9,76.0L734.0,70.5L754.0,57.3L760.0,54.1ZM90.0,100.0L90.0,99.3L92.0,101.0L101.6,114.0L110.0,124.0L128.1,142.0L166.1,174.0L179.1,184.0L193.4,194.0L210.5,204.0L219.1,208.0L228.0,211.3L242.0,214.8L268.0,218.2L280.0,221.7L288.0,225.8L294.6,230.0L312.0,243.1L320.0,251.7L338.0,274.8L352.0,289.7L366.0,301.6L393.9,322.0L406.6,334.0L418.4,348.0L457.4,398.0L492.0,444.5L504.0,459.5L512.0,468.4L522.0,478.4L553.0,506.0L556.9,510.0L559.5,514.0L90.0,514.0ZM608.9,364.0L614.0,362.4L620.0,362.7L626.0,364.5L631.6,368.0L639.3,376.0L643.7,382.0L646.3,388.0L648.1,396.0L648.8,408.0L648.1,418.0L646.0,425.8L640.2,442.0L636.7,450.0L634.0,454.2L630.0,457.5L624.0,459.4L616.0,459.9L608.0,459.1L602.0,457.0L598.0,453.9L596.0,451.0L594.0,446.0L589.0,430.0L587.2,422.0L586.5,414.0L586.9,406.0L588.2,398.0L590.0,392.0L593.9,384.0L598.0,377.4L604.8,368.0Z" fill="#184c50"/>
<path d="M222.8,28.0L309.5,28.0L306.9,30.0L297.3,34.0L274.0,40.1L264.0,41.6L254.0,40.6L244.1,38.0L228.9,32.0L225.0,30.0ZM765.3,56.0L770.0,54.7L774.0,54.2L784.0,55.0L826.0,66.6L846.0,71.6L851.5,74.0L854.1,76.0L857.2,80.0L858.7,84.0L859.3,88.0L858.8,94.0L856.8,100.0L854.7,104.0L848.6,112.0L836.7,124.0L827.1,138.0L819.2,146.0L810.0,153.0L800.0,159.0L792.0,162.0L788.0,162.6L782.0,162.5L772.0,160.7L762.0,156.5L754.0,150.9L744.7,142.0L736.7,132.0L727.6,118.0L724.7,112.0L722.7,106.0L721.8,100.0L722.3,94.0L723.7,90.0L727.6,84.0L732.0,79.3L738.0,74.3L748.0,67.8L757.7,60.0ZM90.0,114.0L92.0,115.1L103.9,128.0L112.2,136.0L130.8,152.0L167.8,180.0L182.3,190.0L195.2,198.0L214.0,207.6L230.0,213.3L242.0,215.9L266.0,218.6L278.8,222.0L286.0,225.5L293.3,230.0L311.8,244.0L319.2,252.0L338.0,276.4L350.0,289.4L364.0,301.9L392.8,324.0L399.3,330.0L406.7,338.0L417.8,352.0L451.6,398.0L486.0,447.5L498.0,463.9L514.0,483.1L539.1,510.0L541.7,514.0L90.0,514.0ZM611.4,372.0L614.0,371.2L616.0,371.2L620.0,372.4L625.6,376.0L629.5,380.0L632.4,384.0L635.4,390.0L636.9,396.0L637.2,402.0L636.4,408.0L635.2,412.0L629.5,422.0L626.6,430.0L624.0,435.0L621.6,438.0L618.0,440.8L614.0,442.5L610.0,442.9L606.0,441.9L604.0,440.7L600.0,436.5L596.0,430.7L593.7,426.0L592.0,420.6L591.0,408.0L592.1,398.0L595.2,390.0L602.0,380.7L608.0,374.5Z" fill="#185849"/>
<path d="M240.6,28.0L294.8,28.0L291.1,30.0L278.0,34.0L270.0,36.2L264.0,36.9L258.4,36.0L251.9,34.0L243.0,30.0ZM771.1,58.0L778.0,57.9L787.2,60.0L817.7,72.0L828.5,78.0L833.8,82.0L837.4,86.0L839.3,90.0L839.3,96.0L837.3,102.0L834.1,108.0L828.0,116.9L822.1,130.0L818.3,136.0L810.9,144.0L803.3,150.0L796.0,154.3L788.0,157.0L778.0,157.0L770.0,155.2L762.0,151.4L754.8,146.0L746.0,136.9L738.1,126.0L732.3,116.0L728.8,106.0L728.3,100.0L729.3,94.0L731.0,90.0L735.1,84.0L741.5,78.0L750.0,71.9L760.0,63.3L766.0,59.6ZM90.0,126.0L90.0,125.6L92.0,126.7L104.4,138.0L116.4,148.0L135.0,162.0L167.1,184.0L193.7,200.0L212.0,208.8L228.0,214.2L242.0,217.1L266.0,219.5L278.0,222.5L285.5,226.0L292.0,230.0L310.5,244.0L318.1,252.0L336.0,275.6L350.0,291.2L362.0,302.2L391.5,326.0L399.6,334.0L406.5,342.0L418.4,358.0L444.8,396.0L492.0,468.2L506.0,487.0L524.6,510.0L526.8,514.0L90.0,514.0ZM609.7,384.0L612.0,383.5L616.0,383.8L619.9,386.0L621.8,388.0L625.0,394.0L625.8,398.0L625.7,402.0L624.8,406.0L623.0,410.0L615.3,422.0L613.5,424.0L610.6,426.0L606.0,426.8L602.0,425.4L600.2,424.0L597.7,420.0L596.0,408.6L595.9,400.0L596.9,396.0L600.0,390.7L604.0,387.0Z" fill="#186243"/>
<path d="M260.0,28.0L271.7,28.0L266.0,29.7L264.0,29.6ZM769.4,62.0L774.0,61.2L782.0,62.8L792.0,66.6L807.0,74.0L813.3,78.0L820.0,84.0L822.9,88.0L825.2,94.0L825.4,100.0L823.5,108.0L816.9,124.0L812.4,132.0L807.6,138.0L800.0,144.8L792.0,149.5L786.0,151.4L778.0,152.0L772.0,151.0L764.7,148.0L758.0,143.1L749.3,134.0L742.1,124.0L736.8,114.0L734.5,106.0L734.2,100.0L734.9,96.0L737.5,90.0L740.3,86.0L746.3,80.0L762.0,66.7ZM90.0,136.0L94.0,138.3L117.0,156.0L137.7,170.0L166.7,188.0L192.1,202.0L210.0,210.0L228.0,215.7L242.0,218.2L266.0,220.4L278.0,223.4L284.0,226.1L290.6,230.0L309.2,244.0L316.9,252.0L334.0,274.8L348.0,291.0L360.0,302.6L390.1,328.0L397.8,336.0L406.0,346.0L417.3,362.0L435.7,390.0L450.7,414.0L484.0,469.3L496.0,487.4L512.0,510.0L514.0,514.0L90.0,514.0ZM605.9,394.0L608.7,394.0L612.0,395.9L613.2,398.0L613.6,400.0L613.5,402.0L612.0,405.9L610.0,408.1L608.0,409.1L606.0,409.0L604.0,407.4L602.0,404.1L601.4,402.0L601.2,400.0L602.0,396.9L604.0,394.8Z" fill="#186d3c"/>
<path d="M770.6,66.0L774.0,65.4L776.0,65.6L783.6,68.0L792.3,72.0L802.3,78.0L807.2,82.0L812.4,88.0L814.5,92.0L816.0,98.0L815.8,106.0L813.7,114.0L810.5,122.0L805.7,130.0L800.6,136.0L794.0,141.4L788.0,144.6L780.0,146.8L774.0,146.7L768.0,144.9L763.5,142.0L757.0,136.0L750.2,128.0L745.0,120.0L741.4,112.0L739.6,104.0L739.7,100.0L740.6,96.0L743.5,90.0L746.6,86.0L752.6,80.0L762.0,72.0ZM90.0,146.0L90.0,145.1L92.0,145.9L115.3,162.0L144.9,180.0L170.1,194.0L192.0,204.8L209.8,212.0L226.0,216.8L240.0,219.2L266.0,221.3L277.2,224.0L284.0,227.1L292.0,231.9L308.0,244.1L316.0,252.3L334.0,276.6L346.0,290.9L358.0,303.0L388.6,330.0L397.6,340.0L405.2,350.0L417.2,368.0L435.5,398.0L476.0,469.8L500.7,510.0L502.5,514.0L90.0,514.0Z" fill="#1a7734"/>
<path d="M770.6,72.0L774.0,71.1L780.0,72.0L788.0,75.3L795.5,80.0L800.2,84.0L805.0,90.0L807.0,94.0L808.5,100.0L808.4,106.0L806.6,114.0L803.1,122.0L799.1,128.0L794.0,133.4L788.0,137.7L782.0,140.5L776.0,141.8L772.0,141.5L768.0,139.6L762.0,134.4L756.0,127.8L751.7,122.0L748.3,116.0L746.0,110.0L744.9,104.0L745.0,100.0L746.1,96.0L748.0,92.0L750.7,88.0L760.0,78.9L766.0,74.5ZM90.0,154.0L92.0,154.4L117.3,170.0L142.7,184.0L166.3,196.0L188.1,206.0L208.0,213.5L226.0,218.3L240.0,220.5L264.0,222.0L276.0,224.6L284.0,228.0L290.6,232.0L308.0,245.4L316.1,254.0L334.0,278.5L346.0,293.0L358.0,305.2L378.7,324.0L386.9,332.0L395.5,342.0L402.8,352.0L415.5,372.0L432.6,402.0L472.0,477.3L490.2,510.0L491.9,514.0L90.0,514.0Z" fill="#1b812d"/>
<path d="M770.2,78.0L774.0,77.1L780.0,77.7L785.7,80.0L790.0,82.7L794.0,86.1L798.6,92.0L800.4,96.0L801.6,102.0L801.3,108.0L799.7,114.0L796.7,120.0L794.0,123.9L790.0,128.0L786.0,131.0L780.1,134.0L776.0,135.0L772.0,134.5L770.0,133.5L766.0,130.5L760.0,124.7L753.8,116.0L751.2,110.0L750.3,106.0L750.1,102.0L750.8,98.0L752.3,94.0L754.8,90.0L762.0,82.7L766.0,80.0ZM90.0,162.0L92.0,162.4L116.4,176.0L140.3,188.0L166.3,200.0L185.6,208.0L206.0,215.1L224.0,219.6L238.0,221.6L264.0,223.1L276.0,225.6L282.0,228.0L288.9,232.0L297.5,238.0L307.3,246.0L316.0,255.5L332.0,277.9L344.0,292.9L356.0,305.7L383.2,332.0L391.7,342.0L400.3,354.0L413.5,376.0L429.5,406.0L464.0,477.4L480.4,510.0L481.9,514.0L90.0,514.0Z" fill="#1d8b27"/>
<path d="M768.7,84.0L772.0,82.9L776.0,82.7L780.0,83.4L784.0,85.2L787.8,88.0L791.3,92.0L793.5,96.0L794.6,100.0L794.9,104.0L794.5,108.0L793.3,112.0L791.3,116.0L786.0,122.1L782.0,124.7L778.0,126.1L772.0,125.7L766.0,122.5L759.8,116.0L757.4,112.0L755.9,108.0L755.2,104.0L755.4,100.0L757.6,94.0L762.4,88.0ZM90.0,170.0L90.0,169.5L92.0,170.1L120.1,184.0L151.8,198.0L177.1,208.0L198.0,215.1L212.0,218.9L226.0,221.6L240.0,223.2L264.0,224.2L276.0,226.7L283.7,230.0L290.0,233.8L305.7,246.0L315.0,256.0L332.0,280.0L342.0,292.8L354.0,306.2L381.3,334.0L390.9,346.0L398.9,358.0L412.3,382.0L427.1,412.0L471.1,510.0L472.4,514.0L90.0,514.0Z" fill="#209422"/>
<path d="M773.6,88.0L778.0,88.5L781.1,90.0L783.7,92.0L786.7,96.0L788.3,102.0L787.5,108.0L785.5,112.0L781.4,116.0L776.0,118.0L772.0,117.7L770.0,117.0L766.0,114.4L762.3,110.0L760.3,104.0L760.9,98.0L764.0,92.7L768.0,89.6ZM90.0,178.0L90.0,176.9L92.0,177.4L122.0,190.7L156.0,204.0L178.9,212.0L198.0,217.7L212.0,221.0L226.0,223.4L238.0,224.5L264.0,225.4L270.0,226.2L276.0,227.8L282.0,230.3L288.4,234.0L304.1,246.0L314.0,256.6L332.0,282.3L344.0,297.7L380.9,338.0L388.4,348.0L396.0,360.0L408.8,384.0L422.6,414.0L462.0,510.0L463.2,514.0L90.0,514.0Z" fill="#239d1e"/>
<path d="M769.8,94.0L772.0,93.3L776.0,93.7L779.4,96.0L780.7,98.0L781.6,102.0L780.6,106.0L778.0,108.9L776.0,109.9L772.0,110.1L770.0,109.3L768.0,107.9L765.6,104.0L765.3,100.0L765.9,98.0L767.3,96.0ZM90.0,186.0L90.0,184.1L92.0,184.6L120.8,196.0L149.1,206.0L176.0,214.5L198.0,220.3L212.0,223.2L226.0,225.1L238.0,226.0L262.0,226.4L274.0,228.4L280.0,230.6L286.4,234.0L295.1,240.0L302.5,246.0L308.6,252.0L313.6,258.0L332.0,284.7L342.0,297.9L377.2,338.0L384.5,348.0L391.9,360.0L404.2,384.0L417.2,414.0L430.3,448.0L453.2,510.0L454.3,514.0L90.0,514.0Z" fill="#26a61a"/>
<path d="M90.0,192.0L90.0,191.2L92.0,191.6L121.8,202.0L154.3,212.0L176.4,218.0L196.0,222.5L210.0,225.0L224.0,226.8L236.0,227.5L262.0,227.7L274.0,229.7L280.2,232.0L287.4,236.0L295.8,242.0L302.9,248.0L308.8,254.0L313.5,260.0L331.1,286.0L342.0,300.7L374.9,340.0L383.1,352.0L389.9,364.0L401.4,388.0L413.3,418.0L426.6,456.0L445.6,514.0L90.0,514.0Z" fill="#29ae18"/>
<path d="M90.0,200.0L90.0,198.1L92.0,198.5L120.0,207.1L148.0,214.7L176.0,221.3L198.0,225.6L224.0,228.7L236.0,229.1L260.0,229.0L272.0,230.5L278.0,232.4L285.1,236.0L293.9,242.0L301.1,248.0L307.1,254.0L311.9,260.0L338.0,298.4L369.6,338.0L377.8,350.0L385.7,364.0L396.6,388.0L408.5,420.0L420.6,458.0L437.0,514.0L90.0,514.0Z" fill="#2ab718"/>
<path d="M90.0,206.0L90.0,204.9L92.0,205.2L117.3,212.0L144.0,218.3L171.6,224.0L194.0,227.8L222.0,230.6L236.0,230.9L258.0,230.4L270.0,231.5L278.0,233.9L284.0,236.9L291.8,242.0L299.2,248.0L305.2,254.0L310.2,260.0L336.0,298.8L365.8,338.0L374.9,352.0L382.4,366.0L392.6,390.0L403.6,422.0L415.1,462.0L428.5,514.0L90.0,514.0Z" fill="#2bc018"/>
<path d="M90.0,212.0L92.0,212.0L118.5,218.0L146.0,223.4L170.0,227.4L192.0,230.4L220.0,232.6L258.0,232.0L270.0,233.0L278.0,235.5L284.0,238.5L292.0,243.8L299.3,250.0L305.1,256.0L310.0,262.2L334.0,299.2L362.1,338.0L370.8,352.0L378.9,368.0L388.5,392.0L398.5,424.0L408.8,464.0L420.1,514.0L90.0,514.0Z" fill="#2aca18"/>
<path d="M90.0,220.0L90.0,218.5L92.0,218.7L144.0,227.7L170.0,231.2L194.0,233.6L220.0,234.9L256.0,233.6L268.0,234.3L275.0,236.0L282.0,239.1L289.8,244.0L297.1,250.0L304.0,257.0L310.0,264.9L332.0,299.8L357.0,336.0L366.7,352.0L374.5,368.0L384.2,394.0L392.8,424.0L402.0,464.0L411.7,514.0L90.0,514.0Z" fill="#24d818"/>
</g>
<g fill="none" stroke-width="1">
<path d="M202.8,133.2C203.5,128.1 204.1,122.5 207.0,118.0C209.9,113.5 215.4,109.7 220.2,106.0C225.0,102.3 230.5,98.9 236.0,96.0C241.5,93.1 245.6,91.7 253.3,88.5C261.0,85.3 271.1,80.5 282.4,76.9C293.7,73.4 306.6,70.4 321.2,67.2C335.8,64.0 357.5,59.8 369.8,57.5C382.1,55.2 388.0,54.9 395.0,53.6C402.0,52.4 406.2,50.9 412.0,50.0C417.8,49.1 419.9,48.4 430.0,48.2C440.1,48.0 457.5,48.1 472.7,48.7C487.9,49.3 506.7,50.4 521.2,51.7C535.8,53.0 550.6,55.4 560.0,56.5C569.4,57.6 572.0,57.4 577.3,58.3C582.6,59.2 587.9,60.0 591.8,61.8C595.7,63.6 597.9,65.9 600.5,69.0C603.1,72.1 605.1,76.5 607.7,80.6C610.4,84.7 612.8,88.1 616.4,93.6C620.0,99.1 624.8,107.1 629.4,113.8C634.0,120.5 639.7,127.2 643.8,134.0C647.9,140.8 651.6,147.6 653.9,154.3C656.2,161.1 657.9,168.2 657.7,174.5C657.5,180.8 655.8,186.0 652.5,191.8C649.2,197.6 643.1,203.4 638.0,209.2C632.9,215.0 627.0,220.9 622.0,226.5C617.0,232.1 612.0,237.8 608.0,243.0C604.0,248.2 601.1,252.2 598.0,258.0C594.9,263.8 591.7,271.2 589.2,277.7C586.8,284.2 585.9,290.5 583.3,297.0C580.7,303.5 577.5,310.0 573.6,316.5C569.7,323.0 564.5,330.4 560.0,335.9C555.5,341.4 551.4,345.8 546.5,349.5C541.6,353.2 536.7,356.7 530.9,358.3C525.1,359.9 518.0,359.7 511.5,359.2C505.0,358.7 498.5,356.9 492.0,355.3C485.5,353.7 479.1,352.1 472.7,349.5C466.2,346.9 459.8,344.0 453.3,339.8C446.8,335.6 440.3,329.5 433.8,324.3C427.3,319.1 420.9,313.1 414.4,308.7C407.9,304.3 400.7,300.9 395.0,298.0C389.3,295.1 385.7,294.5 380.0,291.6C374.3,288.8 367.4,285.5 361.0,280.9C354.6,276.3 348.3,271.1 341.5,264.0C334.7,256.9 326.9,245.1 320.0,238.5C313.1,231.9 306.1,228.5 300.0,224.5C293.9,220.5 289.3,217.0 283.3,214.3C277.3,211.6 270.4,210.2 263.8,208.5C257.2,206.8 249.8,206.7 243.5,204.0C237.2,201.3 231.5,197.8 226.0,192.5C220.5,187.2 214.4,179.3 210.5,172.0C206.6,164.7 204.1,155.2 202.8,148.7C201.5,142.2 202.1,138.3 202.8,133.2Z" stroke="#a4a4cc" stroke-dasharray="7.5 4" stroke-width="1.0"/>
<path d="M225.0,156.5C225.2,151.3 225.5,145.8 227.0,141.0C228.5,136.2 229.4,132.3 233.8,127.4C238.2,122.5 245.2,116.7 253.3,111.8C261.4,106.9 271.1,102.7 282.4,98.3C293.7,93.9 308.3,89.3 321.2,85.6C334.1,81.9 347.7,78.2 360.0,75.9C372.3,73.6 384.3,73.3 395.0,72.0C405.7,70.7 414.3,68.7 424.0,68.2C433.7,67.7 443.6,68.3 453.3,69.1C463.0,69.9 472.7,71.4 482.4,73.0C492.1,74.6 501.8,76.2 511.5,78.8C521.2,81.4 532.5,84.9 540.6,88.5C548.7,92.1 554.2,95.7 560.0,100.2C565.8,104.7 571.2,110.2 575.6,115.7C580.0,121.2 583.7,127.4 586.3,133.2C588.9,139.0 590.2,144.9 591.0,150.7C591.8,156.5 591.8,162.0 591.0,168.2C590.2,174.3 588.2,181.1 586.3,187.6C584.4,194.1 582.2,200.1 579.5,207.0C576.8,213.9 573.0,221.1 569.8,229.0C566.5,236.9 563.9,246.3 560.0,254.4C556.1,262.5 551.4,270.6 546.5,277.7C541.6,284.8 536.7,290.5 530.9,297.0C525.1,303.5 518.0,311.6 511.5,316.5C505.0,321.4 498.5,324.3 492.0,326.2C485.5,328.1 479.1,328.6 472.7,328.0C466.2,327.4 459.8,325.2 453.3,322.3C446.8,319.4 440.3,314.6 433.8,310.7C427.3,306.8 420.9,302.7 414.4,299.0C407.9,295.3 400.7,290.9 395.0,288.3C389.3,285.7 385.7,285.5 380.0,283.1C374.3,280.7 367.4,278.0 361.0,273.9C354.6,269.8 348.3,265.0 341.5,258.5C334.7,252.0 326.9,241.1 320.0,234.8C313.1,228.6 305.6,224.5 300.0,221.0C294.4,217.5 291.5,216.2 286.3,214.0C281.1,211.8 274.0,209.3 268.8,207.5C263.6,205.7 259.3,204.8 255.0,203.0C250.7,201.2 246.8,199.5 243.0,196.5C239.2,193.5 234.8,189.1 232.0,185.0C229.2,180.9 227.2,176.8 226.0,172.0C224.8,167.2 224.8,161.7 225.0,156.5Z" stroke="#b4acd0" stroke-dasharray="7.5 4" stroke-width="1.0"/>
<path d="M238.0,164.3C238.2,160.1 238.7,155.2 240.6,150.7C242.5,146.1 244.7,141.5 249.4,137.0C254.1,132.5 260.1,128.3 268.8,123.5C277.5,118.7 289.8,112.7 301.8,108.0C313.8,103.3 329.3,98.4 340.6,95.3C351.9,92.2 360.7,90.8 369.8,89.5C378.9,88.2 387.6,88.7 395.0,87.6C402.4,86.5 407.9,83.8 414.4,82.7C420.9,81.6 426.7,81.0 433.8,81.2C440.9,81.4 448.9,82.0 457.0,83.7C465.1,85.4 473.3,88.1 482.4,91.5C491.5,94.9 502.8,99.6 511.5,104.0C520.2,108.4 528.3,113.2 534.8,117.7C541.3,122.2 546.1,126.8 550.3,131.3C554.5,135.8 557.9,140.4 560.0,144.9C562.1,149.4 563.0,153.2 563.0,158.4C563.0,163.6 561.8,169.8 560.0,176.0C558.2,182.2 555.2,188.8 552.3,195.3C549.4,201.8 545.8,208.3 542.6,214.8C539.4,221.3 535.5,229.5 532.9,234.2C530.3,238.8 530.6,238.1 527.0,242.7C523.4,247.3 517.3,255.8 511.5,262.0C505.7,268.1 498.5,274.7 492.0,279.6C485.5,284.5 479.1,288.4 472.7,291.3C466.2,294.2 459.8,296.4 453.3,297.0C446.8,297.6 440.3,296.6 433.8,295.0C427.3,293.4 420.9,290.0 414.4,287.4C407.9,284.8 400.7,281.6 395.0,279.6C389.3,277.6 385.7,277.3 380.0,275.2C374.3,273.1 367.4,270.8 361.0,267.0C354.6,263.2 348.3,258.8 341.5,252.6C334.7,246.4 326.9,235.8 320.0,230.0C313.1,224.2 306.9,221.1 300.0,217.5C293.1,213.9 285.0,211.4 278.5,208.5C272.0,205.6 266.2,203.2 261.0,200.0C255.8,196.8 251.0,193.5 247.4,189.5C243.8,185.5 241.3,180.2 239.7,176.0C238.1,171.8 237.8,168.5 238.0,164.3Z" stroke="#c8a8b0" stroke-dasharray="7.5 4" stroke-width="1.0"/>
<path d="M248.4,172.0C248.2,168.1 248.5,164.3 250.3,160.4C252.1,156.5 254.3,152.9 259.0,148.7C263.7,144.5 269.8,139.5 278.5,135.0C287.2,130.5 299.5,125.5 311.5,121.6C323.5,117.7 336.4,115.0 350.3,111.8C364.2,108.5 384.3,104.7 395.0,102.1C405.7,99.5 407.9,97.6 414.4,96.3C420.9,95.0 427.3,94.2 433.8,94.4C440.3,94.6 446.2,95.4 453.3,97.3C460.4,99.2 468.8,102.6 476.6,106.0C484.4,109.4 492.8,113.5 499.9,117.7C507.0,121.9 514.1,126.8 519.3,131.3C524.5,135.8 528.3,140.1 530.9,144.9C533.5,149.8 534.8,154.6 534.8,160.4C534.8,166.2 533.2,173.3 530.9,179.8C528.6,186.3 525.1,192.6 521.2,199.2C517.3,205.8 512.5,212.8 507.6,219.4C502.7,226.0 497.8,232.8 492.0,238.8C486.2,244.8 479.1,250.8 472.7,255.3C466.2,259.8 459.8,263.4 453.3,266.0C446.8,268.6 440.3,270.2 433.8,270.9C427.3,271.6 420.9,271.0 414.4,270.0C407.9,269.0 400.7,266.3 395.0,265.0C389.3,263.7 385.7,263.8 380.0,262.3C374.3,260.9 367.4,259.4 361.0,256.3C354.6,253.2 348.3,249.4 341.5,244.0C334.7,238.6 326.9,228.8 320.0,223.9C313.1,219.0 306.5,218.0 299.9,214.8C293.3,211.7 286.5,208.2 280.4,205.0C274.2,201.8 267.9,198.9 263.0,195.3C258.1,191.8 253.7,187.6 251.3,183.7C248.9,179.8 248.6,175.9 248.4,172.0Z" stroke="#b8988c" stroke-dasharray="7.5 4" stroke-width="1.1"/>
<path d="M260.0,176.0C260.2,173.4 260.2,170.8 263.0,168.2C265.8,165.6 271.1,162.7 276.6,160.4C282.1,158.1 290.2,156.2 296.0,154.6C301.8,153.0 305.7,152.6 311.5,150.7C317.3,148.8 324.4,145.9 330.9,143.0C337.4,140.1 343.8,136.1 350.3,133.2C356.8,130.3 362.4,128.3 369.8,125.4C377.2,122.5 387.6,118.4 395.0,115.7C402.4,113.0 407.9,110.7 414.4,109.5C420.9,108.3 427.3,107.8 433.8,108.3C440.3,108.8 446.8,110.6 453.3,112.8C459.8,115.0 466.6,118.2 472.7,121.6C478.8,125.0 485.3,129.0 490.0,133.2C494.7,137.4 498.4,142.3 500.8,146.8C503.2,151.3 504.5,154.9 504.7,160.4C504.9,165.9 503.9,173.3 501.8,179.8C499.7,186.3 494.6,194.9 492.0,199.2C489.4,203.5 489.5,202.1 486.3,205.8C483.1,209.5 478.2,216.4 472.7,221.4C467.2,226.4 459.8,232.4 453.3,236.0C446.8,239.6 440.3,241.4 433.8,242.7C427.3,244.0 420.9,244.2 414.4,243.7C407.9,243.2 402.4,241.4 395.0,239.8C387.6,238.2 378.9,236.8 369.8,234.2C360.7,231.6 349.7,228.1 340.6,224.5C331.5,220.9 323.5,216.7 315.4,212.8C307.3,208.9 299.1,204.8 292.0,201.2C284.9,197.6 277.7,194.4 272.7,191.5C267.7,188.6 264.1,186.3 262.0,183.7C259.9,181.1 259.8,178.6 260.0,176.0Z" stroke="#6e6650" stroke-dasharray="7 3" stroke-width="1.0"/>
<path d="M285.3,183.7C285.6,182.1 287.0,180.4 290.1,178.8C293.2,177.2 297.6,176.1 303.7,174.0C309.8,171.9 319.9,169.1 327.0,166.2C334.1,163.3 340.0,160.1 346.5,156.5C353.0,152.9 360.1,148.2 365.9,144.9C371.7,141.7 376.5,139.4 381.4,137.0C386.2,134.6 390.1,132.6 395.0,130.3C399.9,128.1 404.7,125.1 410.5,123.5C416.3,121.9 423.9,120.4 430.0,120.6C436.1,120.8 441.9,122.1 447.4,124.5C452.9,126.9 458.8,131.1 463.0,135.1C467.2,139.1 470.6,143.8 472.7,148.7C474.8,153.6 475.9,158.5 475.6,164.3C475.3,170.1 473.5,177.5 470.7,183.7C467.9,189.8 463.5,196.4 459.0,201.2C454.5,205.9 449.3,209.5 443.5,212.2C437.7,214.9 430.1,217.2 424.0,217.6C417.9,218.0 411.5,215.7 406.7,214.8C401.9,213.9 401.1,213.2 395.0,212.2C388.9,211.2 377.2,210.2 369.8,209.0C362.4,207.8 357.4,206.5 350.3,205.0C343.2,203.5 334.8,202.0 327.0,200.2C319.2,198.4 310.2,196.3 303.7,194.4C297.2,192.5 291.3,190.3 288.2,188.5C285.1,186.7 285.0,185.3 285.3,183.7Z" stroke="#74725e" stroke-dasharray="7 3" stroke-width="1.0"/>
<path d="M391.0,172.0C391.0,169.4 393.4,169.1 395.0,166.2C396.6,163.3 398.2,158.5 400.8,154.6C403.4,150.7 406.6,146.0 410.5,142.9C414.4,139.8 419.8,137.1 424.0,136.1C428.2,135.1 432.4,135.5 435.8,137.0C439.2,138.5 442.6,141.3 444.5,144.9C446.4,148.5 447.4,153.6 447.4,158.4C447.4,163.2 446.4,169.5 444.5,174.0C442.6,178.5 439.2,182.8 435.8,185.6C432.4,188.3 428.5,190.2 424.0,190.5C419.5,190.8 413.4,189.1 408.6,187.6C403.8,186.1 397.9,184.3 395.0,181.7C392.1,179.1 391.0,174.6 391.0,172.0Z" stroke="#5c5c68" stroke-dasharray="7 3" stroke-width="1.0"/>
</g>
<g fill="none" stroke="#bcbcc0" stroke-width="2.4" stroke-linejoin="round">
<path d="M572.8,448.0C573.0,441.9 573.1,420.9 574.0,411.5C574.9,402.1 575.6,398.4 577.9,391.3C580.2,384.2 584.2,374.9 588.0,368.6C591.8,362.3 596.0,357.4 600.6,353.4C605.2,349.4 609.9,347.1 615.8,344.6C621.7,342.1 629.7,339.8 636.0,338.3C642.3,336.8 648.6,336.0 653.6,335.8C658.6,335.6 662.7,335.8 666.3,337.0C669.9,338.2 673.0,340.1 675.0,343.3C677.0,346.5 677.7,350.9 678.4,356.0C679.1,361.1 679.1,366.5 679.4,373.6C679.7,380.8 679.9,390.5 680.0,398.9C680.1,407.3 680.2,415.6 680.0,424.0C679.8,432.4 679.7,441.8 678.9,449.4C678.1,457.0 676.5,463.3 675.0,469.6C673.5,475.9 671.9,482.2 670.0,487.0C668.1,491.8 666.9,495.7 663.7,498.6C660.5,501.5 655.6,503.2 651.0,504.4C646.4,505.6 640.7,505.9 636.0,506.0C631.3,506.1 626.2,506.0 623.0,505.0C619.8,504.0 618.0,500.8 617.0,500.0"/>
<path d="M941.0,37.0C934.2,36.9 913.5,36.4 900.0,36.3C886.5,36.2 873.2,36.4 860.0,36.4C846.8,36.4 834.4,36.4 821.0,36.5C807.6,36.6 789.5,36.8 779.7,37.2C769.9,37.6 768.1,37.7 762.3,38.7C756.5,39.7 750.8,40.8 745.0,43.0C739.2,45.2 733.4,48.3 727.6,51.7C721.8,55.1 715.1,59.4 710.3,63.2C705.5,67.0 701.5,70.9 698.7,74.8C695.9,78.7 694.5,82.8 693.5,86.4C692.5,90.0 692.4,92.4 693.0,96.5C693.6,100.6 694.9,105.7 697.3,111.0C699.7,116.3 703.3,122.5 707.4,128.3C711.5,134.1 717.0,140.3 721.8,145.6C726.6,150.9 731.5,155.4 736.3,160.0C741.1,164.6 746.0,169.5 750.8,173.0C755.6,176.5 759.4,179.0 765.2,180.9C771.0,182.8 778.6,183.8 785.4,184.6C792.1,185.4 801.1,185.2 805.7,186.0C810.3,186.8 811.0,190.0 812.9,189.5C814.8,189.0 815.8,185.4 817.2,183.2C818.7,180.9 820.9,177.2 821.6,176.0"/>
<path d="M105.2,35.0C106.9,37.1 112.1,44.2 115.5,47.9C118.9,51.6 121.9,55.0 125.4,57.3C128.9,59.6 134.0,60.7 136.7,61.6C139.4,62.5 140.5,63.1 141.8,62.8C143.1,62.5 140.3,60.5 144.3,59.8C148.3,59.0 153.8,58.7 165.8,58.3C177.8,57.9 200.3,57.4 216.3,57.3C232.3,57.2 250.7,58.2 261.6,57.5C272.6,56.8 273.8,55.4 282.0,53.3C290.2,51.2 301.3,47.7 311.0,45.0C320.7,42.3 332.7,39.2 340.0,37.3C347.3,35.4 352.3,34.1 354.8,33.5"/>
</g>
<g fill="none" stroke="#eeae62" stroke-width="1.4">
<path d="M126.6,56.5C137.3,56.2 167.6,55.1 191.0,54.5C214.4,53.9 240.3,53.2 266.8,52.7C293.3,52.2 322.4,52.0 350.0,51.5C377.6,51.0 397.7,49.9 432.7,49.6C467.7,49.3 517.1,49.9 560.0,49.7C602.9,49.5 640.0,48.7 690.0,48.4C740.0,48.1 819.2,48.0 860.0,47.9C900.8,47.8 922.2,47.7 934.6,47.7"/>
<path d="M144.3,84.3C156.3,83.5 191.7,80.8 216.3,79.2C240.9,77.7 269.7,76.2 292.0,75.0C314.3,73.8 326.6,72.7 350.0,71.7C373.4,70.7 397.7,69.5 432.7,68.8C467.7,68.1 517.1,67.9 560.0,67.6C602.9,67.3 640.0,67.4 690.0,67.0C740.0,66.6 821.3,65.8 860.0,65.3C898.7,64.8 911.7,64.0 922.0,63.8"/>
<path d="M157.0,108.8C166.9,108.2 193.8,106.9 216.3,105.3C238.8,103.7 269.7,101.1 292.0,99.4C314.3,97.7 326.6,96.4 350.0,94.9C373.4,93.5 394.7,91.8 432.7,90.7C470.7,89.7 535.1,88.8 578.0,88.6C620.9,88.3 643.0,89.0 690.0,89.2C737.0,89.4 824.7,89.8 860.0,89.8C895.3,89.8 894.8,89.5 901.8,89.5"/>
<path d="M170.8,130.3C182.6,129.8 217.1,128.6 241.5,127.2C265.9,125.8 299.2,123.4 317.3,122.2C335.4,121.0 330.8,121.2 350.0,120.2C369.2,119.2 394.7,117.5 432.7,116.4C470.7,115.3 535.1,114.0 578.0,113.8C620.9,113.6 643.0,114.6 690.0,115.0C737.0,115.4 827.9,116.0 860.0,116.0C892.1,116.0 879.1,115.2 882.9,115.0"/>
<path d="M187.2,151.7C200.5,151.5 239.7,151.2 266.8,150.7C293.9,150.2 322.4,149.0 350.0,148.7C377.6,148.4 394.7,149.1 432.7,149.0C470.7,148.9 535.1,148.4 578.0,148.0C620.9,147.6 654.7,147.1 690.0,146.5C725.3,145.9 765.0,145.1 790.0,144.5C815.0,143.9 831.7,143.2 840.0,143.0"/>
<path d="M208.7,176.0C222.6,176.1 268.4,176.3 292.0,176.5C315.6,176.7 326.6,176.5 350.0,177.2C373.4,177.9 394.7,179.2 432.7,180.5C470.7,181.8 542.5,184.6 578.0,185.0C613.5,185.4 620.2,184.0 646.0,183.2C671.8,182.4 704.0,181.2 733.0,180.3C762.0,179.4 805.5,178.4 820.0,178.0"/>
<path d="M319.8,244.0C324.8,244.3 331.2,244.4 350.0,246.0C368.8,247.6 402.7,249.7 432.7,253.3C462.7,256.9 501.5,263.8 529.8,267.9C558.1,271.9 584.1,275.1 602.6,277.6C621.1,280.1 626.4,281.1 641.0,282.7C655.6,284.3 672.3,285.6 690.0,287.3C707.7,289.0 737.5,291.9 747.0,292.8"/>
<path d="M404.0,33.6L521.0,33.6" stroke="#f4cf9a" stroke-width="2"/>
</g>
</g>
<path d="M104.6,33.8C106.4,36.1 111.8,43.8 115.3,47.7C118.8,51.6 121.8,53.9 125.4,57.3C129.0,60.7 133.5,63.8 136.7,67.9C139.8,72.0 142.0,77.4 144.3,81.8C146.6,86.2 148.3,89.8 150.6,94.4C152.9,99.0 156.1,105.3 158.2,109.5C160.3,113.7 160.9,116.0 163.2,119.6C165.5,123.2 168.6,126.6 172.0,131.0C175.4,135.4 180.2,142.0 183.4,146.2C186.6,150.4 188.1,152.3 191.0,156.3C193.9,160.3 197.6,166.4 201.0,170.2C204.4,174.0 207.4,175.4 211.2,179.0C215.0,182.6 219.6,187.6 223.8,191.6C228.0,195.6 231.9,200.3 236.5,203.0C241.1,205.7 246.5,206.7 251.6,208.0C256.6,209.3 261.7,209.3 266.8,210.6C271.9,211.9 277.0,213.3 282.0,215.6C287.0,217.9 292.4,221.2 297.0,224.4C301.6,227.6 305.5,230.9 309.7,234.5C313.9,238.1 318.5,242.2 322.3,246.0C326.1,249.8 329.0,253.1 332.4,257.3C335.8,261.5 338.8,266.6 342.6,271.0C346.4,275.4 351.1,280.1 355.3,284.0C359.5,287.9 363.7,291.2 367.9,294.2C372.1,297.2 375.9,299.5 380.5,301.8C385.1,304.1 390.6,306.1 395.7,308.0C400.8,309.9 405.8,310.9 410.8,313.0C415.9,315.1 422.2,317.9 426.0,320.7C429.8,323.4 431.0,326.1 433.5,329.5C436.0,332.9 438.5,337.4 441.0,341.0C443.5,344.6 445.7,347.7 448.7,351.0C451.7,354.3 455.0,357.8 458.8,361.0C462.6,364.2 466.8,367.4 471.4,370.0C476.0,372.6 480.7,374.6 486.6,376.3C492.5,378.0 501.3,378.3 506.8,380.0C512.3,381.7 515.2,383.6 519.4,386.4C523.6,389.1 527.8,392.3 532.0,396.5C536.2,400.7 540.4,406.6 544.6,411.6C548.8,416.7 553.5,421.7 557.3,426.8C561.1,431.9 564.4,437.8 567.4,442.0C570.4,446.2 572.4,448.7 575.0,452.0C577.6,455.3 579.6,458.7 583.0,462.0C586.4,465.3 592.2,468.6 595.5,472.0C598.8,475.4 600.5,478.6 603.0,482.2C605.5,485.8 608.2,490.2 610.7,493.6C613.2,497.0 615.8,500.2 618.3,502.4C620.8,504.6 622.1,506.1 625.9,507.0C629.7,507.9 636.4,508.2 641.0,508.0C645.6,507.8 649.8,507.3 653.6,506.0C657.4,504.7 660.8,503.2 663.7,500.0C666.7,496.8 669.0,491.2 671.3,487.0C673.6,482.8 675.7,478.8 677.6,474.6C679.5,470.4 681.0,466.6 682.7,462.0C684.4,457.4 686.2,451.9 687.7,446.9C689.2,441.8 690.2,437.6 691.5,431.7C692.8,425.8 694.0,418.2 695.3,411.5C696.5,404.8 697.5,398.4 699.0,391.3C700.5,384.2 702.4,375.2 704.0,368.6C705.6,362.1 706.6,357.1 708.7,352.0C710.8,346.9 713.8,343.1 716.8,338.3C719.8,333.5 723.5,328.1 726.9,323.0C730.3,317.9 733.6,312.8 737.0,308.0C740.4,303.2 744.1,298.0 747.0,294.0C749.9,290.0 751.6,287.6 754.6,284.0C757.6,280.4 761.1,276.6 764.7,272.6C768.3,268.6 773.0,263.4 776.0,260.0C779.0,256.6 779.9,255.4 783.0,252.0C786.1,248.6 791.5,243.8 794.5,239.6C797.5,235.4 798.5,231.6 800.8,227.0C803.1,222.4 806.1,216.9 808.4,211.8C810.7,206.8 812.8,201.3 814.7,196.7C816.6,192.1 817.8,188.0 819.7,184.0C821.6,180.0 823.7,176.9 826.0,172.7C828.3,168.5 831.3,163.2 833.6,158.8C835.9,154.4 837.5,149.6 840.0,146.0C842.5,142.4 845.5,140.2 848.8,137.3C852.1,134.4 856.2,131.4 860.0,128.5C863.8,125.5 867.5,122.3 871.5,119.6C875.5,116.8 880.2,115.2 884.0,112.0C887.8,108.8 891.0,104.5 894.0,100.7C897.0,96.9 898.8,93.1 901.8,89.3C904.8,85.5 908.6,82.0 912.0,78.0C915.4,74.0 919.1,69.2 922.0,65.4C924.9,61.6 927.1,58.6 929.6,55.0C932.1,51.4 934.9,47.5 937.0,44.0C939.1,40.5 941.3,35.5 942.2,33.8" fill="none" stroke="#c8c8d0" stroke-width="1" stroke-dasharray="2 1"/>
<path d="M198.6,32.5C200.3,36.3 204.9,46.4 208.7,55.3C212.5,64.1 217.1,74.2 221.3,85.6C225.5,96.9 229.8,110.4 234.0,123.4C238.2,136.4 242.4,151.2 246.6,163.8C250.8,176.4 255.0,189.1 259.2,199.2C263.4,209.3 266.8,214.7 271.8,224.4C276.9,234.1 283.6,247.6 289.5,257.3C295.4,267.0 303.1,276.7 307.2,282.5C311.2,288.3 310.0,289.4 313.8,292.0C317.6,294.6 325.2,296.7 330.0,298.0C334.8,299.3 338.0,299.2 342.6,300.0C347.2,300.8 354.2,301.2 357.8,303.0C361.4,304.8 361.3,307.4 364.0,310.6C366.7,313.8 370.2,318.2 374.2,322.0C378.2,325.8 382.3,330.1 388.0,333.3C393.7,336.5 401.6,339.3 408.3,341.4C415.1,343.5 423.1,345.4 428.5,346.0C433.9,346.6 437.2,346.0 441.0,344.7C444.8,343.4 447.4,341.8 451.2,338.4C455.0,335.0 458.8,328.9 463.8,324.5C468.9,320.1 475.2,315.7 481.5,311.9C487.8,308.1 494.9,304.2 501.7,301.8C508.4,299.4 515.3,299.0 522.0,297.5C528.7,296.0 534.8,295.7 542.0,293.0C549.2,290.3 558.0,284.4 565.3,281.5C572.5,278.6 579.6,277.0 585.5,275.7C591.4,274.4 596.4,272.7 600.6,273.9C604.8,275.1 606.9,279.1 610.7,282.7C614.5,286.3 618.7,291.8 623.3,295.4C627.9,299.0 633.5,302.2 638.5,304.2C643.5,306.2 648.1,307.7 653.6,307.5C659.1,307.3 665.0,305.4 671.3,303.0C677.6,300.6 684.8,295.8 691.5,292.8C698.2,289.9 703.7,286.9 711.7,285.3C719.7,283.7 732.4,283.4 739.5,283.2C746.6,283.0 750.4,282.8 754.6,284.0C758.8,285.2 761.3,288.2 764.7,290.3C768.1,292.4 771.0,296.8 774.8,296.6C778.6,296.4 783.2,292.0 787.5,289.0C791.8,286.0 796.5,282.5 800.8,278.7C805.1,274.9 809.6,268.9 813.4,266.0C817.2,263.1 819.3,261.5 823.5,261.0C827.7,260.5 833.7,263.0 838.7,262.8C843.8,262.6 848.8,262.0 853.8,259.8C858.8,257.6 864.4,254.3 869.0,249.7C873.6,245.1 877.4,237.5 881.6,232.0C885.8,226.5 889.8,222.8 894.0,216.9C898.2,211.0 902.6,203.0 906.9,196.7C911.1,190.4 914.9,184.5 919.5,179.0C924.1,173.5 929.2,168.0 934.6,163.8C940.0,159.6 945.7,155.7 952.0,153.7C958.3,151.7 969.1,152.3 972.5,152.0" fill="none" stroke="#34d6e6" stroke-width="3.1" stroke-dasharray="11.5 10" clip-path="url(#axa)"/>
<g fill="none" stroke="#d8cc3c" stroke-width="1.2">
<circle cx="265.0" cy="33.8" r="4.3"/>
<circle cx="265.0" cy="84.7" r="4.3"/>
<circle cx="265.0" cy="135.0" r="4.3"/>
<circle cx="265.0" cy="185.6" r="4.3"/>
<circle cx="430.3" cy="47.8" r="4.3"/>
<circle cx="430.3" cy="97.9" r="4.3"/>
<circle cx="430.3" cy="148.3" r="4.3"/>
<circle cx="430.3" cy="198.8" r="4.3"/>
<circle cx="430.3" cy="299.0" r="4.3"/>
<circle cx="601.3" cy="56.6" r="4.3"/>
<circle cx="601.3" cy="106.6" r="4.3"/>
<circle cx="601.3" cy="157.2" r="4.3"/>
<circle cx="601.3" cy="206.9" r="4.3"/>
<circle cx="601.3" cy="312.3" r="4.3"/>
<circle cx="601.3" cy="412.3" r="4.3"/>
<circle cx="772.4" cy="51.7" r="4.3"/>
<circle cx="772.4" cy="101.4" r="4.3"/>
<circle cx="772.4" cy="152.3" r="4.3"/>
<circle cx="772.4" cy="202.5" r="4.3"/>
<circle cx="772.4" cy="252.2" r="4.3"/>
</g>
<g font-size="15.5" fill="#ecc23a" text-anchor="middle">
<text x="651.7" y="73.4">1.3</text>
<text x="670.5" y="120.2">1.2</text>
<text x="693.0" y="187.3">1.1</text>
</g>
<g stroke="#3a3a3a" stroke-width="1" fill="none">
<path d="M89.5,34.0H95.0 M972.5,34.0H977.5"/>
<path d="M89.5,84.2H95.0 M972.5,84.2H977.5"/>
<path d="M89.5,134.4H95.0 M972.5,134.4H977.5"/>
<path d="M89.5,184.7H95.0 M972.5,184.7H977.5"/>
<path d="M89.5,234.9H95.0 M972.5,234.9H977.5"/>
<path d="M89.5,285.1H95.0 M972.5,285.1H977.5"/>
<path d="M89.5,335.3H95.0 M972.5,335.3H977.5"/>
<path d="M89.5,385.6H95.0 M972.5,385.6H977.5"/>
<path d="M89.5,435.8H95.0 M972.5,435.8H977.5"/>
<path d="M89.5,486.0H95.0 M972.5,486.0H977.5"/>
<path d="M127.4,29.5V34.0 M127.4,509.3V514.3"/>
<path d="M259.0,29.5V34.0 M259.0,509.3V514.3"/>
<path d="M390.6,29.5V34.0 M390.6,509.3V514.3"/>
<path d="M522.2,29.5V34.0 M522.2,509.3V514.3"/>
<path d="M653.8,29.5V34.0 M653.8,509.3V514.3"/>
<path d="M785.4,29.5V34.0 M785.4,509.3V514.3"/>
<path d="M917.0,29.5V34.0 M917.0,509.3V514.3"/>
</g>
<g font-size="20.3" fill="#1a1a1a">
<text x="79.8" y="40.9" text-anchor="end">3,000</text>
<text x="79.8" y="91.1" text-anchor="end">3,500</text>
<text x="79.8" y="141.3" text-anchor="end">4,000</text>
<text x="79.8" y="191.6" text-anchor="end">4,500</text>
<text x="79.8" y="241.8" text-anchor="end">5,000</text>
<text x="79.8" y="292.0" text-anchor="end">5,500</text>
<text x="79.8" y="342.2" text-anchor="end">6,000</text>
<text x="79.8" y="392.5" text-anchor="end">6,500</text>
<text x="79.8" y="442.7" text-anchor="end">7,000</text>
<text x="79.8" y="492.9" text-anchor="end">7,500</text>
<text x="128.6" y="546.0" text-anchor="middle">138.6</text>
<text x="260.2" y="546.0" text-anchor="middle">138.7</text>
<text x="391.8" y="546.0" text-anchor="middle">138.8</text>
<text x="523.4" y="546.0" text-anchor="middle">138.9</text>
<text x="655.0" y="546.0" text-anchor="middle">139</text>
<text x="786.6" y="546.0" text-anchor="middle">139.1</text>
<text x="918.2" y="546.0" text-anchor="middle">139.2</text>
</g>
<g font-size="22" fill="#1a1a1a" text-anchor="middle">
<text x="266.4" y="20">YM1</text>
<text x="430.0" y="20">YM2</text>
<text x="596.4" y="20">YM3</text>
<text x="767.7" y="20">YM4</text>
</g>
<text transform="translate(19.4,272) rotate(-90)" font-size="22" fill="#1a1a1a" text-anchor="middle">depth [m]</text>
<text x="466.3" y="581.5" font-size="22.7" fill="#1a1a1a">longitude [<tspan font-size="18" dy="-10.6">o</tspan><tspan dy="10.6">E]</tspan></text>
<text x="115.6" y="484.4" font-size="25" font-weight="bold" fill="#fff">a</text>
<rect x="989.2" y="151.8" width="24.4" height="251.8" fill="url(#cbg)"/>
<path d="M989.2,152.3L1001.4,140.2L1013.6,152.3Z" fill="#fbf3d6"/>
<path d="M989.2,403.1L1001.4,414.8L1013.6,403.1Z" fill="#18f818"/>
<path d="M989.2,151.8L1001.4,140.2L1013.6,151.8V403.6L1001.4,414.8L989.2,403.6Z" fill="none" stroke="#111" stroke-width="1.6" stroke-linejoin="miter"/>
<g stroke="#222" stroke-width="1">
<path d="M1009.6,169.3H1013.6"/>
<path d="M1009.6,227.9H1013.6"/>
<path d="M1009.6,286.5H1013.6"/>
<path d="M1009.6,345.1H1013.6"/>
<path d="M1009.6,403.6H1013.6"/>
</g>
<g font-size="16.5" fill="#1a1a1a">
<text x="1019" y="175.3">6</text>
<text x="1019" y="233.9">4</text>
<text x="1019" y="292.5">2</text>
<text x="1019" y="351.1">0</text>
<text x="1016.5" y="409.5">-2</text>
<text x="992.5" y="436" font-size="16">[cm/s]</text>
</g>
<defs><clipPath id="axb"><rect x="96.7" y="600.1" width="876.9" height="368.2"/></clipPath></defs>
<g stroke="#e6e6e6" stroke-width="1">
<path d="M118.1,600.1V968.3"/>
<path d="M173.6,600.1V968.3"/>
<path d="M229.1,600.1V968.3"/>
<path d="M279.2,600.1V968.3"/>
<path d="M334.7,600.1V968.3"/>
<path d="M388.4,600.1V968.3"/>
<path d="M443.9,600.1V968.3"/>
<path d="M497.6,600.1V968.3"/>
<path d="M553.1,600.1V968.3"/>
<path d="M608.6,600.1V968.3"/>
<path d="M662.3,600.1V968.3"/>
<path d="M716.0,600.1V968.3"/>
<path d="M771.5,600.1V968.3"/>
<path d="M826.9,600.1V968.3"/>
<path d="M882.4,600.1V968.3"/>
<path d="M932.6,600.1V968.3"/>
<path d="M96.7,624.9H973.6"/>
<path d="M96.7,698.3H973.6"/>
<path d="M96.7,771.7H973.6"/>
<path d="M96.7,845.1H973.6"/>
<path d="M96.7,918.5H973.6"/>
</g>
<g font-size="20">
<text transform="translate(487.0,619.0) scale(1.050,1)" fill="#cc5220">Mean transport below 3000 m at YMJ= 2.8 Sv</text>
<text transform="translate(487.0,642.5) scale(1.050,1)" fill="#1270b8">Mean transport below Θ<tspan font-size="16" dy="10.3">1.2</tspan><tspan dy="-10.3"> (LCDW) at YMJ= 2.1 Sv</tspan></text>
<text transform="translate(487.0,667.5) scale(1.050,1)" fill="#757575">Mean transport below 4000 m at MT1= 2.2 Sv</text>
</g>
<g fill="none" stroke-linejoin="round" stroke-linecap="round" clip-path="url(#axb)">
<path d="M96.7,785.8L99.3,760.1L102.5,791.1L104.6,782.6L106.8,793.2L108.9,785.8L111.0,794.3L112.5,782.1L115.3,796.5L117.4,800.7L119.6,812.5L122.8,832.8L126.0,812.5L129.2,786.8L132.4,765.5L134.5,744.1L136.7,722.7L138.8,731.3L140.9,748.4L143.1,769.7L145.2,774.0L147.4,730.2L149.5,744.1L152.7,767.6L155.9,732.4L158.0,717.4L160.2,731.3L162.3,715.3L164.4,742.0L166.6,765.5L168.7,786.8L171.9,818.9L174.1,786.8L177.3,759.1L179.4,774.0L181.5,779.4L183.7,791.1L185.8,816.8L187.9,840.7L190.1,818.9L192.2,832.8L194.4,803.9L196.5,808.2L198.6,776.2L200.8,761.2L202.9,752.6L205.0,725.9L207.6,715.3L209.3,735.6L211.5,750.5L213.6,782.6L215.7,750.5L217.9,712.1L220.0,738.8L222.1,728.1L224.3,748.4L226.4,780.4L228.5,765.5L230.7,739.8L232.8,754.8L235.0,742.0L237.1,737.7L239.2,718.5L241.4,696.0L243.5,718.5L245.6,717.4L247.8,733.4L249.9,744.1L252.5,714.2L254.6,708.8L257.4,707.8L259.3,696.0L261.0,703.5L263.8,718.5L266.4,697.1L268.5,720.6L270.6,742.0L272.8,746.2L274.9,769.7L277.1,756.9L280.3,751.6L282.4,746.2L284.5,763.3L286.7,777.2L288.8,786.8L290.9,791.1L293.1,776.2L295.2,759.1L296.7,737.7L298.4,717.4L300.1,750.5L301.6,774.0L303.8,799.7L305.9,806.1L307.0,821.0L309.1,799.7L311.2,784.7L313.4,789.0L315.5,786.8L317.2,799.7L319.4,821.0L320.9,814.6L323.0,812.5L325.1,803.9L327.3,801.8L329.4,776.2L331.1,743.0L332.6,765.5L334.3,756.9L335.8,782.6L337.3,821.0L339.0,840.3L340.7,865.9L341.8,883.0L343.7,859.5L345.4,868.0L347.6,848.8L349.7,861.6L351.8,872.3L354.0,875.5L355.7,868.0L357.2,883.0L359.3,888.3L361.5,872.3L363.6,878.7L365.7,859.5L367.9,872.3L370.0,838.1L372.1,870.2L374.3,855.2L376.4,846.7L378.5,816.8L380.7,776.2L382.8,750.5L385.0,733.4L386.5,742.0L388.2,718.5L390.3,697.1L395.0,665.3L396.7,659.9L398.8,653.5L401.0,646.0L403.5,662.1L406.1,642.8L407.8,653.5L409.5,651.4L411.7,672.7L413.8,700.5L415.3,703.7L416.8,679.1L418.5,710.1L420.6,698.4L422.8,687.7L424.9,677.0L427.5,674.9L429.2,694.1L431.3,715.5L433.5,734.7L435.2,749.7L436.7,762.5L438.8,741.1L440.9,711.2L443.1,687.7L445.2,679.1L447.4,680.2L449.5,664.2L451.0,657.8L452.7,682.4L454.4,670.6L456.3,658.8L458.0,674.9L459.7,688.8L461.7,677.0L463.4,686.6L465.1,668.5L466.6,705.9L468.3,702.6L470.2,727.2L472.4,711.2L474.5,694.1L476.6,683.4L478.8,689.8L480.9,685.6L482.6,735.8L484.3,715.5L486.5,716.5L488.6,732.6L490.7,721.9L492.9,731.5L495.4,730.4L497.6,734.7L499.3,736.8L501.4,730.4L503.5,730.4L505.7,716.5L507.8,732.6L510.0,755.0L512.1,743.2L514.2,735.8L516.4,749.7L518.5,770.0L520.6,758.2L522.8,750.7L524.9,752.9L527.1,766.8L530.1,798.5L532.3,824.1L534.4,845.5L536.5,854.0L538.7,860.4L540.8,875.4L542.9,892.5L544.4,903.2L546.6,913.8L548.7,928.8L550.9,941.6L553.0,922.4L555.1,918.1L557.3,928.8L559.4,913.8L561.5,928.8L563.7,932.0L565.8,930.9L567.3,941.6L569.0,951.2L571.2,935.2L573.3,922.4L575.4,909.6L577.6,919.2L579.7,916.0L581.4,888.2L583.5,854.0L585.0,824.1L587.2,817.7L588.7,824.1L590.4,813.4L592.1,830.5L593.6,839.1L595.7,846.5L597.9,841.2L600.0,817.7L601.5,804.9L602.8,794.2L604.9,813.4L607.1,804.9L609.2,792.1L611.8,768.5L613.5,798.5L615.6,797.4L617.7,822.0L620.3,832.6L622.4,841.2L624.6,834.8L627.1,821.2L629.3,804.1L631.4,782.7L633.1,766.7L634.6,791.3L636.8,825.5L638.9,836.2L641.0,821.2L643.2,825.5L645.3,797.7L646.4,767.8L647.9,780.6L649.6,758.2L651.7,778.5L653.2,775.3L654.9,795.6L656.6,831.9L658.1,797.7L659.6,831.9L661.8,821.2L663.9,793.4L665.6,784.9L667.3,799.8L669.4,814.8L671.6,821.2L673.7,810.5L675.9,793.4L678.0,781.7L680.1,779.5L681.6,771.0L683.1,799.8L684.4,825.5L686.5,819.1L688.7,793.4L690.8,782.7L692.9,780.6L695.1,787.0L697.2,804.1L699.4,825.5L701.5,810.5L703.6,797.7L705.8,787.0L707.9,778.5L710.0,761.4L712.2,744.3L714.3,731.5L716.9,735.7L719.0,740.0L720.7,750.7L722.9,763.5L725.0,772.1L727.1,769.9L729.3,782.7L731.4,797.7L733.5,808.4L735.0,812.6L736.5,791.3L738.7,774.2L740.8,767.8L742.9,782.7L745.1,772.1L747.2,797.7L749.4,778.5L751.5,765.6L753.6,757.1L755.8,752.8L757.5,748.5L759.6,740.0L761.8,733.6L763.9,746.4L766.0,761.4L768.2,763.5L771.4,725.5L774.0,712.7L775.7,727.6L777.8,713.8L780.0,731.9L782.1,755.4L783.8,791.8L785.3,749.0L786.4,721.2L788.1,740.5L790.2,757.6L792.4,774.7L794.5,766.1L796.6,757.6L798.1,734.1L800.3,755.4L802.4,744.7L804.5,736.2L806.7,727.6L808.8,719.1L810.9,723.4L813.1,710.6L815.2,693.5L817.4,676.4L819.5,661.4L821.6,667.8L823.1,680.6L824.8,673.2L826.5,689.2L828.7,705.2L830.8,707.4L832.9,705.2L835.1,703.1L837.2,698.8L839.4,704.1L841.5,712.7L843.6,717.0L845.8,727.6L847.9,761.8L850.0,740.5L852.2,736.2L854.3,761.8L856.5,807.8L858.6,783.2L860.7,761.8L862.9,717.0L865.0,740.5L867.1,778.9L869.3,749.0L871.4,774.7L873.5,802.4L876.1,835.6L878.2,804.6L880.4,783.2L882.5,774.7L884.7,757.6L886.8,755.4L888.9,774.7L891.1,802.4L893.2,806.7L895.3,817.4L897.5,828.1L899.6,813.1L901.8,817.4L903.9,830.2L906.0,843.0L908.6,825.9L910.3,817.4L912.4,840.9L914.6,851.6L917.1,868.7L919.3,851.6L921.4,847.3L923.8,841.6L925.9,840.6L928.1,830.9L929.6,813.8L930.9,777.5L932.4,796.8L933.8,792.5L935.6,824.5L937.3,809.6L939.4,830.9L941.5,833.1L943.0,813.8L944.7,828.8L946.2,796.8L947.9,775.4L950.1,769.0L952.2,781.8L953.7,783.9L955.2,766.8L956.9,745.5L958.6,733.7L960.1,722.0L962.3,681.4L964.0,719.8L965.9,692.1L967.6,715.6L969.3,709.1L971.5,724.1L973.4,754.0" stroke="#d2521c" stroke-width="2.3"/>
<path d="M96.7,802.9L98.2,813.5L100.3,796.5L103.1,815.7L105.3,796.5L106.8,807.1L108.9,797.5L110.4,803.9L112.5,796.5L115.3,801.8L117.4,808.2L120.6,833.8L123.8,844.5L127.1,816.8L130.3,798.6L133.5,780.4L135.6,765.5L137.7,751.6L139.9,769.7L142.0,784.7L143.1,803.9L145.2,789.0L146.7,808.2L148.8,765.5L151.0,780.4L152.7,792.2L155.9,754.8L158.7,750.5L161.2,765.5L163.4,774.0L165.1,797.5L167.2,778.3L169.8,799.7L172.4,817.8L174.5,795.4L177.3,782.6L179.4,778.3L182.2,786.8L183.7,799.7L185.8,791.1L187.9,810.3L191.2,816.8L193.3,806.1L195.4,812.5L197.6,825.3L199.3,808.2L200.8,816.8L202.9,795.4L205.0,769.7L207.2,767.6L209.3,780.4L211.5,812.5L213.2,836.0L215.1,812.5L217.2,780.4L218.9,763.3L221.1,782.6L222.8,771.9L224.9,803.9L225.8,826.4L227.9,806.1L230.0,789.0L232.2,776.2L234.3,801.8L237.1,799.7L239.2,774.0L241.4,752.6L243.5,764.4L245.6,769.7L247.8,786.8L249.3,778.3L250.3,797.5L252.5,784.7L254.6,782.6L256.8,771.9L258.9,780.4L261.0,752.6L263.2,765.5L265.3,756.9L267.4,748.4L269.6,763.3L271.1,774.0L272.8,759.1L274.9,789.0L277.1,771.9L279.2,782.6L282.4,771.9L284.5,776.2L286.7,795.4L288.8,816.8L290.3,799.7L292.0,831.7L293.7,799.7L295.2,774.0L297.4,765.5L298.8,761.2L300.6,786.8L302.7,806.1L304.8,827.4L306.5,823.2L308.0,842.4L310.2,812.5L312.3,806.1L314.4,825.3L316.6,838.1L318.1,827.4L320.2,843.5L322.4,827.4L325.1,818.9L327.3,831.7L329.4,803.9L330.9,793.2L332.6,812.5L334.3,801.8L335.8,827.4L337.3,838.1L339.0,836.0L341.2,861.6L343.3,846.7L345.4,833.8L347.6,829.6L349.7,838.1L351.8,846.7L354.0,838.1L356.1,815.7L357.8,844.5L360.4,827.4L363.6,826.4L365.7,823.2L367.9,821.0L370.0,800.7L371.5,816.8L373.2,808.2L374.9,810.3L377.1,797.5L379.2,778.3L381.3,765.5L383.5,748.4L385.0,752.6L386.5,765.5L388.2,746.2L390.3,733.4L392.0,725.9L393.5,731.3L395.0,721.7L397.1,731.3L399.9,729.1L401.4,732.6L403.5,734.7L405.7,724.0L407.8,726.2L410.0,732.6L412.1,736.8L413.8,741.1L416.4,729.4L418.5,746.5L420.2,756.1L422.4,745.4L424.9,734.7L427.5,727.2L429.6,745.4L431.8,758.2L433.9,777.4L436.0,791.3L438.2,777.4L440.3,758.2L443.1,741.1L446.3,737.9L448.8,728.3L451.0,722.9L453.1,730.4L455.3,741.1L457.0,730.4L458.7,756.1L460.8,749.7L462.9,730.4L465.1,724.0L467.2,743.2L468.7,739.0L470.4,775.3L472.4,771.0L474.5,752.9L476.6,749.7L478.8,758.2L480.9,750.7L483.0,779.6L484.6,768.5L486.8,777.1L488.9,783.5L491.0,777.1L493.2,785.6L495.3,792.1L497.4,797.4L498.9,803.8L500.6,792.1L502.8,804.9L504.9,793.1L506.6,781.4L508.1,794.2L510.3,811.3L512.4,798.5L514.5,787.8L516.7,802.7L518.8,815.6L520.9,804.9L523.1,802.7L525.2,804.9L527.4,817.7L529.5,832.6L531.0,828.4L533.1,857.2L534.8,847.6L536.5,844.4L538.5,827.3L540.2,854.0L541.9,840.1L543.8,851.9L545.5,864.7L547.2,873.2L548.9,864.7L550.9,879.7L553.0,854.0L555.1,851.9L557.3,847.6L558.8,854.0L560.5,836.9L562.2,854.0L563.7,849.7L565.2,844.4L567.3,856.2L569.4,860.4L571.6,851.9L573.7,848.7L575.4,832.6L577.1,847.6L578.6,849.7L580.8,834.8L582.9,822.0L585.0,808.1L586.5,799.5L588.2,817.7L590.4,824.1L592.1,820.9L594.2,829.4L596.4,824.1L598.5,804.9L600.6,803.8L602.8,810.2L604.9,816.6L607.1,818.8L609.2,813.4L611.3,801.7L612.8,804.9L615.0,820.9L616.5,813.4L618.2,822.0L620.3,817.7L622.4,824.1L624.6,822.0L627.1,819.1L629.3,810.5L631.4,797.7L633.1,791.3L634.6,825.5L636.8,842.6L638.2,838.3L640.4,819.1L642.5,831.9L644.2,823.3L646.4,802.0L648.9,791.3L651.1,795.6L653.2,804.1L655.3,821.2L657.1,829.7L659.2,804.1L660.9,831.9L663.0,808.4L665.2,797.7L667.3,812.6L669.4,823.3L670.9,825.5L673.1,812.6L675.2,793.4L677.4,785.9L679.5,782.7L681.0,785.9L682.7,810.5L684.8,795.6L686.5,808.4L688.0,793.4L690.2,784.9L692.3,781.7L694.4,789.1L696.6,802.0L698.1,795.6L700.2,804.1L702.4,791.3L705.1,788.1L707.3,784.9L709.4,772.1L711.5,789.1L713.0,777.4L714.7,791.3L716.2,799.8L717.9,772.1L720.1,787.0L721.6,784.9L723.3,802.0L725.0,789.1L727.1,799.8L729.3,796.6L731.4,797.7L733.5,812.6L735.0,814.8L736.5,793.4L738.7,790.2L740.8,793.4L742.9,802.0L745.1,804.1L747.2,812.6L749.4,799.8L751.5,793.4L753.2,790.2L755.3,808.4L757.5,791.3L759.2,777.4L761.3,768.8L762.8,782.7L764.3,774.2L766.0,781.7L767.7,793.4L769.2,782.7L771.0,764.0L773.1,796.0L775.3,749.0L777.4,755.4L779.5,766.1L781.7,753.3L783.8,783.2L785.3,738.3L786.8,755.4L788.5,774.7L790.6,795.0L792.8,783.2L794.9,766.1L797.1,755.4L799.2,762.9L801.3,767.2L803.5,764.0L805.6,759.7L807.7,746.9L809.9,755.4L812.0,744.7L814.1,749.0L816.3,738.3L818.8,725.5L821.0,706.3L823.1,734.1L825.3,708.4L827.0,749.0L829.1,731.9L831.2,728.7L833.4,721.2L835.5,731.9L837.6,730.9L839.8,735.1L841.9,737.3L844.1,742.6L846.2,740.5L848.3,755.4L850.5,736.2L852.6,725.5L854.3,740.5L856.5,770.4L858.6,757.6L860.7,772.5L862.9,730.9L865.0,746.9L867.1,780.0L869.3,755.4L871.4,781.1L873.5,800.3L875.7,811.0L877.8,785.3L880.0,766.1L882.1,761.8L884.2,757.6L886.4,749.0L888.5,774.7L890.6,793.9L892.8,802.4L894.9,801.4L897.1,806.7L899.2,796.0L901.3,788.5L903.5,793.9L905.6,804.6L907.7,787.5L909.9,802.4L912.0,796.0L914.1,808.8L916.3,815.3L918.4,819.5L921.0,821.7L922.7,821.3L924.9,828.8L927.0,818.1L928.7,798.9L930.2,779.7L931.7,796.8L933.4,781.8L935.1,813.8L936.6,786.1L938.1,796.8L939.8,818.1L941.5,809.6L943.0,803.2L944.7,813.8L946.2,788.2L948.4,782.9L950.5,792.5L952.6,805.3L954.8,792.5L956.9,786.1L959.1,781.8L960.8,790.3L962.7,756.2L964.4,792.5L966.1,777.5L967.6,783.9L969.3,776.5L971.5,788.2L973.4,807.4" stroke="#1672b8" stroke-width="2.3"/>
<path d="M97.6,748.8L100.3,753.7L104.6,771.5L107.8,762.3L110.0,753.7L113.8,749.4L117.4,722.7L121.7,736.0L124.9,725.9L128.1,708.4L131.3,716.3L134.5,719.5L137.7,725.9L140.9,738.8L144.1,723.8L146.3,724.9L148.0,714.2L150.6,721.7L152.7,717.4L157.0,718.5L160.2,725.9L163.4,736.6L166.6,752.6L168.7,762.3L170.9,742.0L175.1,736.0L178.3,742.0L180.5,753.7L182.6,767.6L185.8,771.9L187.9,785.8L189.0,767.6L192.2,766.5L194.4,742.0L197.6,741.5L200.8,742.0L202.9,737.7L205.0,728.7L208.2,736.0L211.5,740.9L214.7,742.0L217.9,743.0L221.1,763.3L223.2,770.8L226.4,756.9L228.5,748.8L231.8,753.7L233.9,746.2L237.1,750.5L240.3,747.9L243.5,745.2L246.3,759.1L247.8,739.8L249.9,707.8L251.8,695.4L254.6,705.6L257.8,707.8L260.0,704.6L263.2,722.7L266.4,742.0L269.6,761.2L271.7,774.0L274.9,768.7L278.1,769.7L281.3,777.2L284.5,780.4L287.7,792.2L290.9,784.7L293.1,782.6L294.6,775.1L297.4,786.8L299.5,799.7L301.6,814.6L304.8,821.0L307.0,803.9L310.2,800.7L312.3,801.8L315.5,812.5L317.6,820.0L319.4,812.5L320.9,818.9L323.0,795.4L325.1,780.4L327.3,765.5L329.4,759.1L331.5,774.0L333.7,782.6L335.8,791.1L337.9,797.5L341.2,798.6L344.4,802.9L346.5,790.0L348.6,791.1L350.8,779.4L352.9,789.0L355.0,780.4L358.2,769.7L361.5,767.6L364.7,764.4L367.9,765.5L370.0,759.1L373.2,739.8L376.4,731.3L378.5,718.5L381.8,717.4L383.9,703.5L387.1,702.4L390.3,698.2L392.4,688.5L394.6,683.2L397.1,686.4L399.3,697.1L401.4,713.3L403.5,711.2L405.7,719.7L407.4,730.4L408.9,749.7L411.0,771.0L413.2,752.9L415.3,755.0L417.4,760.3L419.6,766.8L421.7,777.4L423.8,771.0L426.6,771.0L429.2,771.0L431.3,777.4L433.9,787.1L436.7,786.0L438.8,775.3L440.9,764.6L444.1,759.3L447.4,755.0L450.6,751.8L453.1,743.2L455.9,740.0L458.0,756.1L460.2,777.4L462.3,792.4L464.4,800.9L467.2,805.2L469.8,806.3L473.0,811.6L475.1,822.3L477.1,830.5L479.3,845.5L481.4,855.1L484.6,857.2L487.4,869.0L490.0,867.9L492.5,860.4L494.2,869.0L495.9,862.6L498.1,875.4L500.2,873.2L501.7,893.5L503.8,888.2L506.0,905.3L508.1,907.4L509.6,920.3L511.8,892.5L513.9,854.0L516.7,851.9L518.8,844.4L520.9,828.4L523.1,817.7L525.2,817.7L527.4,832.6L529.5,839.1L532.3,845.5L534.8,854.0L537.4,875.4L539.5,896.8L541.7,898.9L543.4,917.1L545.5,911.7L547.6,912.8L549.8,905.3L551.9,905.3L554.5,893.5L557.3,896.8L559.4,909.6L561.5,911.7L564.3,911.7L566.5,901.0L569.0,892.5L571.2,883.9L573.3,888.2L575.4,883.9L577.4,876.9L579.8,852.9L582.2,828.8L584.3,814.4L586.2,820.8L587.8,835.3L589.4,856.1L591.5,870.5L593.4,860.9L595.0,859.3L596.6,851.3L598.2,846.5L600.6,838.5L603.0,828.0L604.2,824.0L605.8,838.5L607.9,856.1L609.5,867.3L611.1,875.3L612.7,886.5L614.3,897.8L615.9,915.4L617.5,928.2L619.1,939.4L620.4,947.4L621.8,937.8L623.1,941.0L624.4,933.0L625.5,929.0L627.1,928.2L628.7,926.6L630.8,919.4L632.7,905.0L634.6,912.2L636.4,921.8L638.3,930.6L639.4,912.2L640.7,889.7L642.0,867.3L643.6,854.5L645.2,843.3L646.8,856.1L648.4,851.3L650.0,854.5L651.9,862.5L653.8,870.5L655.9,876.9L657.9,883.3L659.6,870.5L661.5,852.9L663.1,832.1L664.7,812.8L666.3,804.8L667.9,811.2L669.9,814.4L672.0,809.6L673.6,805.6L675.2,801.6L677.6,800.0L679.2,808.0L681.6,811.2L684.0,815.2L685.6,808.0L686.7,819.2L688.0,810.4L689.6,812.8L692.0,814.4L695.5,822.3L697.6,829.7L699.1,839.4L700.9,825.5L703.0,825.5L705.1,808.4L707.3,782.7L709.4,757.1L711.5,745.3L713.0,743.2L715.2,752.8L717.3,759.2L719.4,753.9L722.2,752.8L724.4,763.5L726.5,774.2L728.6,782.7L730.8,793.4L732.9,778.5L735.0,769.9L737.2,760.3L739.3,763.5L742.5,764.6L745.1,765.6L747.2,761.4L749.4,752.8L751.5,740.0L753.2,733.6L755.8,730.4L758.5,732.5L761.8,727.2L765.0,721.8L767.1,734.1L769.7,728.7L772.5,720.2L774.6,727.6L776.8,731.9L778.9,736.2L781.0,743.7L783.2,749.0L785.3,750.1L788.1,749.0L790.2,756.5L791.7,759.7L793.8,749.0L795.3,725.5L797.1,720.2L799.2,727.6L801.3,735.1L803.5,725.5L805.6,713.8L807.7,706.3L810.3,708.4L812.4,705.2L815.2,700.9L818.4,697.7L821.0,696.7L823.1,698.8L825.3,706.3L827.4,705.2L829.5,705.2L831.7,698.8L833.4,696.7L835.5,705.2L837.6,710.6L839.8,717.0L841.9,726.6L844.1,734.1L846.2,733.0L848.3,740.5L850.5,752.2L853.0,761.8L855.2,749.0L857.3,725.5L860.1,705.2L862.2,706.3L863.7,707.4L865.4,721.2L867.6,735.1L869.7,743.7L871.8,746.9L874.0,740.5L876.1,736.2L878.2,727.6L880.4,723.4L882.1,722.9L884.2,728.7L886.4,740.5L888.5,751.2L890.6,757.6L892.8,760.8L895.3,757.6L897.5,764.0L899.6,768.2L901.8,772.5L903.9,777.9L906.5,774.7L909.2,773.6L911.4,772.5L913.5,781.1L915.6,788.5L917.8,783.2L919.9,772.5L922.3,756.2L923.8,754.0L925.5,769.0L927.4,756.2L929.1,763.6L931.3,745.5L933.0,766.8L935.1,754.0L936.6,771.1L938.8,778.6L940.5,771.1L942.4,790.3L944.1,764.7L945.8,766.8L947.9,759.4L950.1,766.8L952.6,771.1L954.8,758.3L956.9,745.5L959.1,734.8L961.2,728.4L963.8,729.4L965.9,730.5L968.0,733.7L970.2,730.5L972.3,728.4" stroke="#0a0a0a" stroke-width="2.4"/>
</g>
<rect x="96.7" y="600.1" width="876.9" height="368.2" fill="none" stroke="#6a6a6a" stroke-width="1.3"/>
<g stroke="#555" stroke-width="1.2">
<path d="M118.1,592.1V600.1 M118.1,968.3V977.3"/>
<path d="M173.6,592.1V600.1 M173.6,968.3V977.3"/>
<path d="M229.1,592.1V600.1 M229.1,968.3V977.3"/>
<path d="M279.2,592.1V600.1 M279.2,968.3V977.3"/>
<path d="M334.7,592.1V600.1 M334.7,968.3V977.3"/>
<path d="M388.4,592.1V600.1 M388.4,968.3V977.3"/>
<path d="M443.9,592.1V600.1 M443.9,968.3V977.3"/>
<path d="M497.6,592.1V600.1 M497.6,968.3V977.3"/>
<path d="M553.1,592.1V600.1 M553.1,968.3V977.3"/>
<path d="M608.6,592.1V600.1 M608.6,968.3V977.3"/>
<path d="M662.3,592.1V600.1 M662.3,968.3V977.3"/>
<path d="M716.0,592.1V600.1 M716.0,968.3V977.3"/>
<path d="M771.5,592.1V600.1 M771.5,968.3V977.3"/>
<path d="M826.9,592.1V600.1 M826.9,968.3V977.3"/>
<path d="M882.4,592.1V600.1 M882.4,968.3V977.3"/>
<path d="M932.6,592.1V600.1 M932.6,968.3V977.3"/>
<path d="M87.7,624.9H96.7 M973.6,624.9H982.6"/>
<path d="M87.7,698.3H96.7 M973.6,698.3H982.6"/>
<path d="M87.7,771.7H96.7 M973.6,771.7H982.6"/>
<path d="M87.7,845.1H96.7 M973.6,845.1H982.6"/>
<path d="M87.7,918.5H96.7 M973.6,918.5H982.6"/>
</g>
<g font-size="18" fill="#1a1a1a">
<text transform="translate(81.0,631.5) scale(1.050,1)" text-anchor="end">9</text>
<text transform="translate(81.0,704.9) scale(1.050,1)" text-anchor="end">6</text>
<text transform="translate(81.0,778.3) scale(1.050,1)" text-anchor="end">3</text>
<text transform="translate(81.0,851.7) scale(1.050,1)" text-anchor="end">0</text>
<text transform="translate(81.0,925.1) scale(1.050,1)" text-anchor="end">-3</text>
<text transform="translate(118.1,1002.6) scale(1.050,1)" text-anchor="middle">Dec</text>
<text transform="translate(173.6,1002.6) scale(1.050,1)" text-anchor="middle">Jan</text>
<text transform="translate(229.1,1002.6) scale(1.050,1)" text-anchor="middle">Feb</text>
<text transform="translate(279.2,1002.6) scale(1.050,1)" text-anchor="middle">Mar</text>
<text transform="translate(334.7,1002.6) scale(1.050,1)" text-anchor="middle">Apr</text>
<text transform="translate(388.4,1002.6) scale(1.050,1)" text-anchor="middle">May</text>
<text transform="translate(443.9,1002.6) scale(1.050,1)" text-anchor="middle">Jun</text>
<text transform="translate(497.6,1002.6) scale(1.050,1)" text-anchor="middle">Jul</text>
<text transform="translate(553.1,1002.6) scale(1.050,1)" text-anchor="middle">Aug</text>
<text transform="translate(608.6,1002.6) scale(1.050,1)" text-anchor="middle">Sep</text>
<text transform="translate(662.3,1002.6) scale(1.050,1)" text-anchor="middle">Oct</text>
<text transform="translate(716.0,1002.6) scale(1.050,1)" text-anchor="middle">Nov</text>
<text transform="translate(771.5,1002.6) scale(1.050,1)" text-anchor="middle">Dec</text>
<text transform="translate(826.9,1002.6) scale(1.050,1)" text-anchor="middle">Jan</text>
<text transform="translate(882.4,1002.6) scale(1.050,1)" text-anchor="middle">Feb</text>
<text transform="translate(932.6,1002.6) scale(1.050,1)" text-anchor="middle">Mar</text>
<text transform="translate(173.6,1025.5) scale(1.050,1)" text-anchor="middle">2018</text>
<text transform="translate(826.9,1025.5) scale(1.050,1)" text-anchor="middle">2019</text>
</g>
<text transform="translate(31.7,784.5) rotate(-90)" font-size="21" fill="#1a1a1a" text-anchor="middle">Transport [Sv]</text>
<text transform="translate(116.0,641.0) scale(1.050,1)" font-size="25" font-weight="bold" fill="#111">b</text>
</svg></body></html>
